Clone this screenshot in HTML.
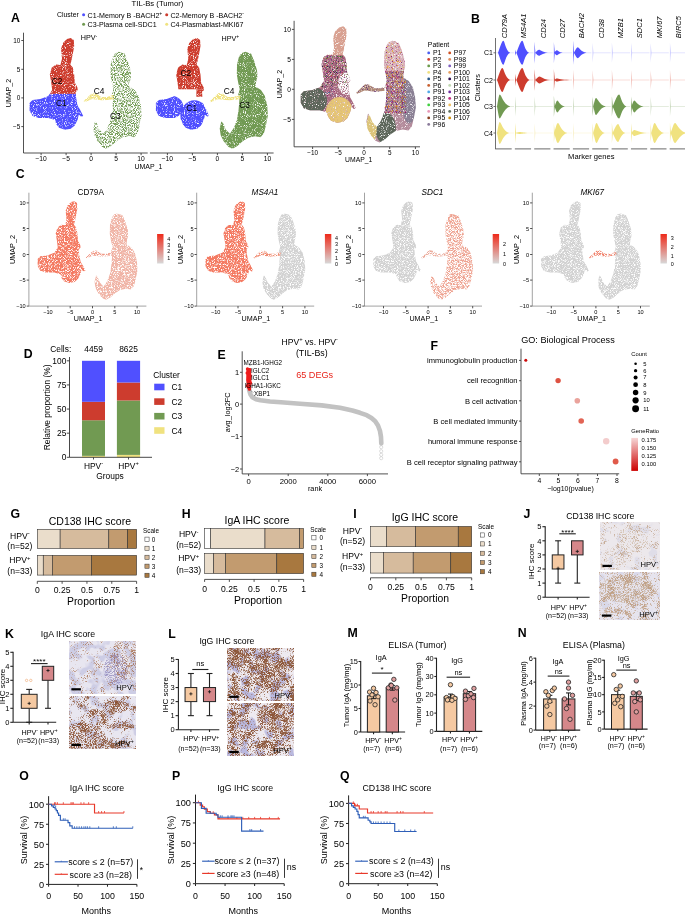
<!DOCTYPE html><html><head><meta charset="utf-8"><style>html,body{margin:0;padding:0;background:#fff}svg{display:block;will-change:transform}text{font-family:"Liberation Sans",sans-serif}</style></head><body><svg width="685" height="914" viewBox="0 0 685 914" font-family="Liberation Sans, sans-serif">
<rect width="685" height="914" fill="#fff"/>
<defs><filter id="spkD" x="-5%" y="-5%" width="110%" height="110%"><feTurbulence type="fractalNoise" baseFrequency="1.1" numOctaves="1" seed="3" result="n"/><feColorMatrix in="n" type="matrix" values="0 0 0 0 0 0 0 0 0 0 0 0 0 0 0 5 0 0 0 -1.3" result="a"/><feComposite in="SourceGraphic" in2="a" operator="in"/></filter><filter id="spkM" x="-5%" y="-5%" width="110%" height="110%"><feTurbulence type="fractalNoise" baseFrequency="1.1" numOctaves="1" seed="4" result="n"/><feColorMatrix in="n" type="matrix" values="0 0 0 0 0 0 0 0 0 0 0 0 0 0 0 5 0 0 0 -1.7" result="a"/><feComposite in="SourceGraphic" in2="a" operator="in"/></filter><filter id="spkS" x="-5%" y="-5%" width="110%" height="110%"><feTurbulence type="fractalNoise" baseFrequency="1.1" numOctaves="1" seed="5" result="n"/><feColorMatrix in="n" type="matrix" values="0 0 0 0 0 0 0 0 0 0 0 0 0 0 0 5 0 0 0 -2.1" result="a"/><feComposite in="SourceGraphic" in2="a" operator="in"/></filter><filter id="spkC" x="-5%" y="-5%" width="110%" height="110%"><feTurbulence type="fractalNoise" baseFrequency="1.3" numOctaves="1" seed="6" result="n"/><feColorMatrix in="n" type="matrix" values="0 0 0 0 0 0 0 0 0 0 0 0 0 0 0 5 0 0 0 -1.6" result="a"/><feComposite in="SourceGraphic" in2="a" operator="in"/></filter><filter id="spkCs" x="-5%" y="-5%" width="110%" height="110%"><feTurbulence type="fractalNoise" baseFrequency="1.3" numOctaves="1" seed="7" result="n"/><feColorMatrix in="n" type="matrix" values="0 0 0 0 0 0 0 0 0 0 0 0 0 0 0 5 0 0 0 -2.0" result="a"/><feComposite in="SourceGraphic" in2="a" operator="in"/></filter><filter id="spkG" x="-5%" y="-5%" width="110%" height="110%"><feTurbulence type="fractalNoise" baseFrequency="1.3" numOctaves="1" seed="8" result="n"/><feColorMatrix in="n" type="matrix" values="0 0 0 0 0 0 0 0 0 0 0 0 0 0 0 5 0 0 0 -1.6" result="a"/><feComposite in="SourceGraphic" in2="a" operator="in"/></filter><filter id="sp1" x="-5%" y="-5%" width="110%" height="110%"><feTurbulence type="fractalNoise" baseFrequency="1.2" numOctaves="1" seed="27" result="n"/><feColorMatrix in="n" type="matrix" values="0 0 0 0 0 0 0 0 0 0 0 0 0 0 0 6 0 0 0 -3.5" result="a"/><feComposite in="SourceGraphic" in2="a" operator="in"/></filter><filter id="sp2" x="-5%" y="-5%" width="110%" height="110%"><feTurbulence type="fractalNoise" baseFrequency="1.2" numOctaves="1" seed="34" result="n"/><feColorMatrix in="n" type="matrix" values="0 0 0 0 0 0 0 0 0 0 0 0 0 0 0 6 0 0 0 -3.5" result="a"/><feComposite in="SourceGraphic" in2="a" operator="in"/></filter><filter id="sp3" x="-5%" y="-5%" width="110%" height="110%"><feTurbulence type="fractalNoise" baseFrequency="1.2" numOctaves="1" seed="41" result="n"/><feColorMatrix in="n" type="matrix" values="0 0 0 0 0 0 0 0 0 0 0 0 0 0 0 6 0 0 0 -3.5" result="a"/><feComposite in="SourceGraphic" in2="a" operator="in"/></filter><filter id="sp4" x="-5%" y="-5%" width="110%" height="110%"><feTurbulence type="fractalNoise" baseFrequency="1.2" numOctaves="1" seed="48" result="n"/><feColorMatrix in="n" type="matrix" values="0 0 0 0 0 0 0 0 0 0 0 0 0 0 0 6 0 0 0 -3.5" result="a"/><feComposite in="SourceGraphic" in2="a" operator="in"/></filter><filter id="sp5" x="-5%" y="-5%" width="110%" height="110%"><feTurbulence type="fractalNoise" baseFrequency="1.2" numOctaves="1" seed="55" result="n"/><feColorMatrix in="n" type="matrix" values="0 0 0 0 0 0 0 0 0 0 0 0 0 0 0 6 0 0 0 -3.5" result="a"/><feComposite in="SourceGraphic" in2="a" operator="in"/></filter><filter id="sp6" x="-5%" y="-5%" width="110%" height="110%"><feTurbulence type="fractalNoise" baseFrequency="1.2" numOctaves="1" seed="62" result="n"/><feColorMatrix in="n" type="matrix" values="0 0 0 0 0 0 0 0 0 0 0 0 0 0 0 6 0 0 0 -3.5" result="a"/><feComposite in="SourceGraphic" in2="a" operator="in"/></filter><filter id="sp7" x="-5%" y="-5%" width="110%" height="110%"><feTurbulence type="fractalNoise" baseFrequency="1.2" numOctaves="1" seed="69" result="n"/><feColorMatrix in="n" type="matrix" values="0 0 0 0 0 0 0 0 0 0 0 0 0 0 0 6 0 0 0 -3.5" result="a"/><feComposite in="SourceGraphic" in2="a" operator="in"/></filter><filter id="sp8" x="-5%" y="-5%" width="110%" height="110%"><feTurbulence type="fractalNoise" baseFrequency="1.2" numOctaves="1" seed="76" result="n"/><feColorMatrix in="n" type="matrix" values="0 0 0 0 0 0 0 0 0 0 0 0 0 0 0 6 0 0 0 -3.5" result="a"/><feComposite in="SourceGraphic" in2="a" operator="in"/></filter><filter id="spB" x="-10%" y="-10%" width="120%" height="120%"><feTurbulence type="fractalNoise" baseFrequency="1.1" numOctaves="1" seed="77" result="n"/><feColorMatrix in="n" type="matrix" values="0 0 0 0 0 0 0 0 0 0 0 0 0 0 0 6 0 0 0 -2.7" result="a"/><feComposite in="SourceGraphic" in2="a" operator="in" result="c"/><feGaussianBlur in="c" stdDeviation="0.35"/></filter><filter id="spB2" x="-10%" y="-10%" width="120%" height="120%"><feTurbulence type="fractalNoise" baseFrequency="1.1" numOctaves="1" seed="78" result="n"/><feColorMatrix in="n" type="matrix" values="0 0 0 0 0 0 0 0 0 0 0 0 0 0 0 6 0 0 0 -3.1" result="a"/><feComposite in="SourceGraphic" in2="a" operator="in" result="c"/><feGaussianBlur in="c" stdDeviation="0.35"/></filter></defs>
<text x="11" y="21.53" font-size="12.3" font-weight="bold" >A</text>
<text x="157.5" y="5.77" font-size="7.7" text-anchor="middle" >TIL-Bs (Tumor)</text>
<text x="57" y="16.68" font-size="6.9" >Cluster</text>
<circle cx="83.6" cy="14.8" r="1.5" fill="#5050ff" />
<circle cx="83.6" cy="24.3" r="1.5" fill="#719a52" />
<circle cx="166.7" cy="14.8" r="1.5" fill="#cd3c2e" />
<circle cx="166.7" cy="24.3" r="1.5" fill="#f0e27f" />
<text x="87.6" y="17.56" font-size="7.1" >C1-Memory B -BACH2<tspan font-size="4.83" dy="-2.84">+</tspan></text>
<text x="87.6" y="26.86" font-size="7.1" >C3-Plasma cell-SDC1</text>
<text x="170.5" y="17.56" font-size="7.1" >C2-Memory B -BACH2<tspan font-size="4.83" dy="-2.84">-</tspan></text>
<text x="170.5" y="26.86" font-size="7.1" >C4-Plasmablast-MKI67</text>
<clipPath id="cA0L"><path d="M70.84,38.07 L73.78,40.03 L74.18,45.93 L73.39,50.84 L71.43,60.66 L70.25,64.58 L72.8,67.53 L74.18,74.4 L74.77,82.26 L77.32,87.17 L77.71,90.12 L75.75,92.08 L76.14,97.97 L77.71,105.83 L80.07,109.76 L83.21,116.04 L81.25,116.83 L78.69,114.67 L77.71,119.58 L74.77,125.47 L70.84,128.81 L64.95,129.79 L59.05,127.83 L56.11,123.9 L55.13,119.97 L48.25,118.01 L38.43,118.01 L32.54,116.04 L29.59,110.74 L29.59,102.88 L32.54,99.94 L40.4,98.96 L48.25,96.01 L52.18,90.12 L51.2,82.26 L49.82,74.4 L51.79,67.53 L56.11,64.58 L60.43,64.98 L62,58.69 L61.02,48.87 L62.98,42.98 L66.91,39.05 Z"/></clipPath>
<g filter="url(#spkD)"><g clip-path="url(#cA0L)">
<rect x="21.1" y="34.76" width="70" height="59.12" fill="#cd3c2e" />
<rect x="21.1" y="93.88" width="70" height="45.92" fill="#5050ff" />
</g></g>
<path d="M118.96,51.82 L124.85,53.78 L127.8,60.66 L130.74,70.48 L131.13,76.37 L129.76,82.26 L129.17,86.58 L134.67,90.12 L138.6,96.01 L140.95,105.83 L141.54,115.65 L139.58,125.47 L137.62,133.33 L134.28,137.25 L128.78,136.27 L121.9,137.65 L116.01,141.58 L111.1,146.09 L106.19,148.65 L102.26,147.08 L97.35,141.18 L94.41,135.29 L93.42,128.42 L95,121.15 L96.96,123.51 L99.32,129.4 L103.64,133.72 L107.57,127.83 L110.71,119.58 L112.28,109.76 L113.06,99.94 L111.89,94.44 L113.46,89.14 L111.89,82.65 L110.51,74.8 L110.71,64.58 L112.67,56.73 L115.03,53.19 Z" fill="#719a52" filter="url(#spkS)"/>
<path d="M83.6,100.92 L86.55,98.37 L89.5,95.62 L92.44,93.06 L96.37,93.65 L101.28,96.99 L107.17,96.99 L112.67,95.03 L114.24,96.4 L113.85,99.15 L107.17,99.94 L101.28,100.33 L96.37,99.54 L91.46,99.15 L87.53,101.12 L84.19,102.29 Z" fill="#f0e27f" filter="url(#spkM)"/>
<clipPath id="cA1L"><path d="M197.14,38.07 L200.08,40.03 L200.48,45.93 L199.69,50.84 L197.73,60.66 L196.55,64.58 L199.1,67.53 L200.48,74.4 L201.07,82.26 L203.62,87.17 L204.01,90.12 L202.05,92.08 L202.44,97.97 L204.01,105.83 L206.37,109.76 L209.51,116.04 L207.55,116.83 L204.99,114.67 L204.01,119.58 L201.07,125.47 L197.14,128.81 L191.25,129.79 L185.35,127.83 L182.41,123.9 L181.43,119.97 L174.55,118.01 L164.73,118.01 L158.84,116.04 L155.89,110.74 L155.89,102.88 L158.84,99.94 L166.7,98.96 L174.55,96.01 L178.48,90.12 L177.5,82.26 L176.12,74.4 L178.09,67.53 L182.41,64.58 L186.73,64.98 L188.3,58.69 L187.32,48.87 L189.28,42.98 L193.21,39.05 Z"/></clipPath>
<g filter="url(#spkD)"><g clip-path="url(#cA1L)">
<rect x="147.4" y="34.76" width="70" height="54.53" fill="#cd3c2e" />
<rect x="196.4" y="89.29" width="15" height="7.46" fill="#cd3c2e" />
<ellipse cx="168.4" cy="107.08" rx="15" ry="12.05" fill="#5050ff"/>
<ellipse cx="194.4" cy="115.69" rx="14" ry="15.5" fill="#5050ff"/>
</g></g>
<path d="M245.26,51.82 L251.15,53.78 L254.1,60.66 L257.04,70.48 L257.43,76.37 L256.06,82.26 L255.47,86.58 L260.97,90.12 L264.9,96.01 L267.25,105.83 L267.84,115.65 L265.88,125.47 L263.92,133.33 L260.58,137.25 L255.08,136.27 L248.2,137.65 L242.31,141.58 L237.4,146.09 L232.49,148.65 L228.56,147.08 L223.65,141.18 L220.71,135.29 L219.72,128.42 L221.3,121.15 L223.26,123.51 L225.62,129.4 L229.94,133.72 L233.87,127.83 L237.01,119.58 L238.58,109.76 L239.36,99.94 L238.19,94.44 L239.76,89.14 L238.19,82.65 L236.81,74.8 L237.01,64.58 L238.97,56.73 L241.33,53.19 Z" fill="#719a52" filter="url(#spkD)"/>
<path d="M209.9,100.92 L212.85,98.37 L215.8,95.62 L218.74,93.06 L222.67,93.65 L227.58,96.99 L233.47,96.99 L238.97,95.03 L240.54,96.4 L240.15,99.15 L233.47,99.94 L227.58,100.33 L222.67,99.54 L217.76,99.15 L213.83,101.12 L210.49,102.29 Z" fill="#f0e27f" filter="url(#spkM)"/>
<line x1="23.5" y1="32.7" x2="23.5" y2="153" stroke="#333" stroke-width="0.85" />
<line x1="23.5" y1="153" x2="147.7" y2="153" stroke="#333" stroke-width="0.85" />
<line x1="149.9" y1="153" x2="273.6" y2="153" stroke="#333" stroke-width="0.85" />
<line x1="21.3" y1="40.5" x2="23.5" y2="40.5" stroke="#333" stroke-width="0.85" />
<text x="20.3" y="42.8" font-size="6.4" text-anchor="end" >10</text>
<line x1="21.3" y1="69.3" x2="23.5" y2="69.3" stroke="#333" stroke-width="0.85" />
<text x="20.3" y="71.6" font-size="6.4" text-anchor="end" >5</text>
<line x1="21.3" y1="97.9" x2="23.5" y2="97.9" stroke="#333" stroke-width="0.85" />
<text x="20.3" y="100.2" font-size="6.4" text-anchor="end" >0</text>
<line x1="21.3" y1="126.6" x2="23.5" y2="126.6" stroke="#333" stroke-width="0.85" />
<text x="20.3" y="128.9" font-size="6.4" text-anchor="end" >−5</text>
<line x1="41.1" y1="153" x2="41.1" y2="155.2" stroke="#333" stroke-width="0.85" />
<text x="41.1" y="161.11" font-size="6.7" text-anchor="middle" >−10</text>
<line x1="66.1" y1="153" x2="66.1" y2="155.2" stroke="#333" stroke-width="0.85" />
<text x="66.1" y="161.11" font-size="6.7" text-anchor="middle" >−5</text>
<line x1="91.1" y1="153" x2="91.1" y2="155.2" stroke="#333" stroke-width="0.85" />
<text x="91.1" y="161.11" font-size="6.7" text-anchor="middle" >0</text>
<line x1="116.1" y1="153" x2="116.1" y2="155.2" stroke="#333" stroke-width="0.85" />
<text x="116.1" y="161.11" font-size="6.7" text-anchor="middle" >5</text>
<line x1="141.1" y1="153" x2="141.1" y2="155.2" stroke="#333" stroke-width="0.85" />
<text x="141.1" y="161.11" font-size="6.7" text-anchor="middle" >10</text>
<line x1="167.4" y1="153" x2="167.4" y2="155.2" stroke="#333" stroke-width="0.85" />
<text x="167.4" y="161.11" font-size="6.7" text-anchor="middle" >−10</text>
<line x1="192.4" y1="153" x2="192.4" y2="155.2" stroke="#333" stroke-width="0.85" />
<text x="192.4" y="161.11" font-size="6.7" text-anchor="middle" >−5</text>
<line x1="217.4" y1="153" x2="217.4" y2="155.2" stroke="#333" stroke-width="0.85" />
<text x="217.4" y="161.11" font-size="6.7" text-anchor="middle" >0</text>
<line x1="242.4" y1="153" x2="242.4" y2="155.2" stroke="#333" stroke-width="0.85" />
<text x="242.4" y="161.11" font-size="6.7" text-anchor="middle" >5</text>
<line x1="267.4" y1="153" x2="267.4" y2="155.2" stroke="#333" stroke-width="0.85" />
<text x="267.4" y="161.11" font-size="6.7" text-anchor="middle" >10</text>
<text x="148.5" y="168.62" font-size="7" text-anchor="middle" >UMAP_1</text>
<text transform="translate(8.4,93) rotate(-90)" x="0" y="2.56" font-size="7.1" text-anchor="middle" >UMAP_2</text>
<text x="80.7" y="40.39" font-size="7.2" >HPV<tspan font-size="4.9" dy="-2.88">-</tspan></text>
<text x="221.5" y="40.89" font-size="7.2" >HPV<tspan font-size="4.9" dy="-2.88">+</tspan></text>
<text x="57" y="84.02" font-size="8.4" text-anchor="middle" >C2</text>
<text x="61.4" y="106.12" font-size="8.4" text-anchor="middle" >C1</text>
<text x="99" y="94.32" font-size="8.4" text-anchor="middle" >C4</text>
<text x="115.3" y="118.92" font-size="8.4" text-anchor="middle" >C3</text>
<text x="185.8" y="76.22" font-size="8.4" text-anchor="middle" >C2</text>
<text x="191.7" y="110.72" font-size="8.4" text-anchor="middle" >C1</text>
<text x="229" y="93.82" font-size="8.4" text-anchor="middle" >C4</text>
<text x="244.5" y="108.22" font-size="8.4" text-anchor="middle" >C3</text>
<clipPath id="cA3L"><path d="M343.17,26.35 L346.2,28.41 L346.6,34.6 L345.8,39.76 L343.78,50.07 L342.56,54.2 L345.19,57.3 L346.6,64.52 L347.21,72.77 L349.83,77.93 L350.24,81.02 L348.22,83.09 L348.62,89.28 L350.24,97.53 L352.66,101.66 L355.89,108.26 L353.87,109.08 L351.25,106.82 L350.24,111.97 L347.21,118.16 L343.17,121.67 L337.11,122.7 L331.06,120.64 L328.03,116.51 L327.02,112.39 L319.95,110.32 L309.86,110.32 L303.8,108.26 L300.77,102.69 L300.77,94.44 L303.8,91.34 L311.88,90.31 L319.95,87.21 L323.99,81.02 L322.98,72.77 L321.57,64.52 L323.59,57.3 L328.03,54.2 L332.47,54.61 L334.08,48.01 L333.08,37.69 L335.09,31.5 L339.13,27.38 Z"/></clipPath><clipPath id="cA3R"><path d="M392.64,40.79 L398.69,42.85 L401.72,50.07 L404.75,60.39 L405.15,66.58 L403.74,72.77 L403.14,77.31 L408.79,81.02 L412.83,87.21 L415.25,97.53 L415.86,107.85 L413.84,118.16 L411.82,126.42 L408.39,130.54 L402.73,129.51 L395.67,130.96 L389.61,135.08 L384.56,139.83 L379.51,142.51 L375.47,140.86 L370.43,134.67 L367.4,128.48 L366.39,121.26 L368,113.62 L370.02,116.1 L372.45,122.29 L376.89,126.83 L380.93,120.64 L384.16,111.97 L385.77,101.66 L386.58,91.34 L385.37,85.56 L386.98,79.99 L385.37,73.18 L383.95,64.93 L384.16,54.2 L386.18,45.95 L388.6,42.23 Z"/></clipPath><clipPath id="cA3B"><path d="M356.29,92.37 L359.32,89.69 L362.35,86.8 L365.38,84.12 L369.42,84.74 L374.47,88.25 L380.52,88.25 L386.18,86.18 L387.79,87.63 L387.39,90.52 L380.52,91.34 L374.47,91.75 L369.42,90.93 L364.37,90.52 L360.33,92.58 L356.9,93.82 Z"/></clipPath>
<g clip-path="url(#cA3L)">
<g filter="url(#spkD)">
<rect x="292.04" y="22.87" width="71.96" height="108.54" fill="#a86a80" />
<rect x="292.04" y="22.87" width="71.96" height="32.56" fill="#d8a090" />
</g>
<g filter="url(#sp1)">
<rect x="320.31" y="55.43" width="38.55" height="31.96" fill="#8a1a6a" />
</g>
<g filter="url(#sp2)">
<rect x="320.31" y="55.43" width="38.55" height="31.96" fill="#5a2a80" />
</g>
<g filter="url(#sp3)">
<rect x="320.31" y="55.43" width="38.55" height="31.96" fill="#b05a28" />
</g>
<g filter="url(#sp4)">
<rect x="320.31" y="55.43" width="38.55" height="31.96" fill="#e8e4d0" />
</g>
<g filter="url(#sp5)">
<rect x="320.31" y="55.43" width="38.55" height="31.96" fill="#c03080" />
</g>
<g filter="url(#sp6)">
<rect x="320.31" y="55.43" width="38.55" height="31.96" fill="#2a2a40" />
</g>
<g filter="url(#sp7)">
<rect x="320.31" y="55.43" width="38.55" height="31.96" fill="#6a9a4a" />
</g>
<g filter="url(#sp8)">
<rect x="320.31" y="55.43" width="38.55" height="31.96" fill="#e0a0b0" />
</g>
<g filter="url(#spkM)">
<ellipse cx="347.55" cy="83.77" rx="9.77" ry="11.46" fill="#ffffff"/>
</g>
<g filter="url(#spkD)">
<ellipse cx="312.09" cy="100.66" rx="14.91" ry="13.87" fill="#5c665a"/>
<ellipse cx="339.33" cy="111.51" rx="13.36" ry="14.47" fill="#e6c674"/>
</g>
<g filter="url(#sp5)">
<rect x="324.94" y="85.58" width="10.79" height="10.85" fill="#8a1a6a" />
</g>
<g filter="url(#sp6)">
<rect x="324.94" y="85.58" width="10.79" height="10.85" fill="#2a5a8a" />
</g>
<g filter="url(#sp7)">
<rect x="324.94" y="85.58" width="10.79" height="10.85" fill="#e0a0b0" />
</g>
</g>
<g clip-path="url(#cA3R)">
<g filter="url(#spkD)">
<rect x="364" y="34.93" width="61.68" height="114.57" fill="#b48c9c" />
<rect x="364" y="34.93" width="61.68" height="36.18" fill="#dab0bc" />
<ellipse cx="409.23" cy="98.25" rx="7.71" ry="25.33" fill="#8a8094"/>
<ellipse cx="385.59" cy="128.4" rx="10.28" ry="15.68" fill="#5c665a"/>
<ellipse cx="371.71" cy="127.19" rx="5.14" ry="15.08" fill="#dcc47a"/>
</g>
<g filter="url(#sp1)">
<rect x="376.85" y="71.11" width="29.3" height="42.21" fill="#5a2a80" />
</g>
<g filter="url(#sp2)">
<rect x="376.85" y="71.11" width="29.3" height="42.21" fill="#e8a030" />
</g>
<g filter="url(#sp3)">
<rect x="376.85" y="71.11" width="29.3" height="42.21" fill="#e8e0c8" />
</g>
<g filter="url(#sp4)">
<rect x="376.85" y="71.11" width="29.3" height="42.21" fill="#8a1a6a" />
</g>
<g filter="url(#sp5)">
<rect x="376.85" y="71.11" width="29.3" height="42.21" fill="#c03080" />
</g>
<g filter="url(#sp6)">
<rect x="376.85" y="71.11" width="29.3" height="42.21" fill="#607060" />
</g>
<g filter="url(#sp7)">
<rect x="376.85" y="71.11" width="29.3" height="42.21" fill="#d09010" />
</g>
<g filter="url(#sp8)">
<rect x="376.85" y="71.11" width="29.3" height="42.21" fill="#6a3a90" />
</g>
<g filter="url(#sp4)">
<rect x="376.85" y="34.93" width="38.55" height="36.18" fill="#c0d8b0" />
</g>
<g filter="url(#sp5)">
<rect x="376.85" y="34.93" width="38.55" height="36.18" fill="#8a1a6a" />
</g>
<g filter="url(#sp6)">
<rect x="376.85" y="34.93" width="38.55" height="36.18" fill="#e8a030" />
</g>
</g>
<g clip-path="url(#cA3B)"><g filter="url(#spkD)">
<rect x="353.72" y="80.16" width="30.84" height="15.08" fill="#b08a78" />
</g>
<g filter="url(#sp3)">
<rect x="353.72" y="80.16" width="30.84" height="15.08" fill="#5a2a80" />
</g></g>
<line x1="294.1" y1="20.8" x2="294.1" y2="146.8" stroke="#333" stroke-width="0.85" />
<line x1="294.1" y1="146.8" x2="420" y2="146.8" stroke="#333" stroke-width="0.85" />
<line x1="291.9" y1="29.4" x2="294.1" y2="29.4" stroke="#333" stroke-width="0.85" />
<text x="290.9" y="31.78" font-size="6.6" text-anchor="end" >10</text>
<line x1="291.9" y1="59.4" x2="294.1" y2="59.4" stroke="#333" stroke-width="0.85" />
<text x="290.9" y="61.78" font-size="6.6" text-anchor="end" >5</text>
<line x1="291.9" y1="89.3" x2="294.1" y2="89.3" stroke="#333" stroke-width="0.85" />
<text x="290.9" y="91.68" font-size="6.6" text-anchor="end" >0</text>
<line x1="291.9" y1="119.4" x2="294.1" y2="119.4" stroke="#333" stroke-width="0.85" />
<text x="290.9" y="121.78" font-size="6.6" text-anchor="end" >−5</text>
<line x1="312.6" y1="146.8" x2="312.6" y2="149" stroke="#333" stroke-width="0.85" />
<text x="312.6" y="154.6" font-size="6.4" text-anchor="middle" >−10</text>
<line x1="338.3" y1="146.8" x2="338.3" y2="149" stroke="#333" stroke-width="0.85" />
<text x="338.3" y="154.6" font-size="6.4" text-anchor="middle" >−5</text>
<line x1="364" y1="146.8" x2="364" y2="149" stroke="#333" stroke-width="0.85" />
<text x="364" y="154.6" font-size="6.4" text-anchor="middle" >0</text>
<line x1="389.7" y1="146.8" x2="389.7" y2="149" stroke="#333" stroke-width="0.85" />
<text x="389.7" y="154.6" font-size="6.4" text-anchor="middle" >5</text>
<line x1="415.4" y1="146.8" x2="415.4" y2="149" stroke="#333" stroke-width="0.85" />
<text x="415.4" y="154.6" font-size="6.4" text-anchor="middle" >10</text>
<text x="358.7" y="162.45" font-size="6.8" text-anchor="middle" >UMAP_1</text>
<text transform="translate(279.6,84) rotate(-90)" x="0" y="2.56" font-size="7.1" text-anchor="middle" >UMAP_2</text>
<text x="427.8" y="46.68" font-size="6.9" >Patient</text>
<circle cx="428.7" cy="52.9" r="1.4" fill="#4a5ef0" />
<text x="433" y="55.38" font-size="6.9" >P1</text>
<circle cx="428.7" cy="59.4" r="1.4" fill="#d04030" />
<text x="433" y="61.88" font-size="6.9" >P2</text>
<circle cx="428.7" cy="65.9" r="1.4" fill="#6a9a4a" />
<text x="433" y="68.38" font-size="6.9" >P3</text>
<circle cx="428.7" cy="72.4" r="1.4" fill="#f0e080" />
<text x="433" y="74.88" font-size="6.9" >P4</text>
<circle cx="428.7" cy="78.9" r="1.4" fill="#2a5a8a" />
<text x="433" y="81.38" font-size="6.9" >P5</text>
<circle cx="428.7" cy="85.4" r="1.4" fill="#c86030" />
<text x="433" y="87.88" font-size="6.9" >P6</text>
<circle cx="428.7" cy="91.9" r="1.4" fill="#50a8e8" />
<text x="433" y="94.38" font-size="6.9" >P91</text>
<circle cx="428.7" cy="98.4" r="1.4" fill="#801a70" />
<text x="433" y="100.88" font-size="6.9" >P92</text>
<circle cx="428.7" cy="104.9" r="1.4" fill="#40d040" />
<text x="433" y="107.38" font-size="6.9" >P93</text>
<circle cx="428.7" cy="111.4" r="1.4" fill="#e898b8" />
<text x="433" y="113.88" font-size="6.9" >P94</text>
<circle cx="428.7" cy="117.9" r="1.4" fill="#8a4020" />
<text x="433" y="120.38" font-size="6.9" >P95</text>
<circle cx="428.7" cy="124.4" r="1.4" fill="#8a7a9a" />
<text x="433" y="126.88" font-size="6.9" >P96</text>
<circle cx="449.7" cy="52.9" r="1.4" fill="#d05020" />
<text x="453.8" y="55.38" font-size="6.9" >P97</text>
<circle cx="449.7" cy="59.4" r="1.4" fill="#e09060" />
<text x="453.8" y="61.88" font-size="6.9" >P98</text>
<circle cx="449.7" cy="65.9" r="1.4" fill="#8060c0" />
<text x="453.8" y="68.38" font-size="6.9" >P99</text>
<circle cx="449.7" cy="72.4" r="1.4" fill="#e8a060" />
<text x="453.8" y="74.88" font-size="6.9" >P100</text>
<circle cx="449.7" cy="78.9" r="1.4" fill="#301050" />
<text x="453.8" y="81.38" font-size="6.9" >P101</text>
<circle cx="449.7" cy="85.4" r="1.4" fill="#c0d8b0" />
<text x="453.8" y="87.88" font-size="6.9" >P102</text>
<circle cx="449.7" cy="91.9" r="1.4" fill="#7030a0" />
<text x="453.8" y="94.38" font-size="6.9" >P103</text>
<circle cx="449.7" cy="98.4" r="1.4" fill="#c03080" />
<text x="453.8" y="100.88" font-size="6.9" >P104</text>
<circle cx="449.7" cy="104.9" r="1.4" fill="#f0c060" />
<text x="453.8" y="107.38" font-size="6.9" >P105</text>
<circle cx="449.7" cy="111.4" r="1.4" fill="#607060" />
<text x="453.8" y="113.88" font-size="6.9" >P106</text>
<circle cx="449.7" cy="117.9" r="1.4" fill="#d09010" />
<text x="453.8" y="120.38" font-size="6.9" >P107</text>
<text x="471" y="22.73" font-size="12.3" font-weight="bold" >B</text>
<line x1="495.5" y1="38" x2="495.5" y2="148.9" stroke="#333" stroke-width="0.7" />
<line x1="493.5" y1="52.8" x2="495.5" y2="52.8" stroke="#333" stroke-width="0.7" />
<text x="493" y="55.32" font-size="7" text-anchor="end" >C1</text>
<line x1="493.5" y1="80" x2="495.5" y2="80" stroke="#333" stroke-width="0.7" />
<text x="493" y="82.52" font-size="7" text-anchor="end" >C2</text>
<line x1="493.5" y1="106.5" x2="495.5" y2="106.5" stroke="#333" stroke-width="0.7" />
<text x="493" y="109.02" font-size="7" text-anchor="end" >C3</text>
<line x1="493.5" y1="133" x2="495.5" y2="133" stroke="#333" stroke-width="0.7" />
<text x="493" y="135.52" font-size="7" text-anchor="end" >C4</text>
<text transform="translate(477,87.7) rotate(-90)" x="0" y="2.66" font-size="7.4" text-anchor="middle" >Clusters</text>
<text x="591.3" y="159.44" font-size="7.6" text-anchor="middle" >Marker genes</text>
<line x1="495.1" y1="148.9" x2="511.7" y2="148.9" stroke="#444" stroke-width="0.8" />
<text transform="translate(504.1,38.2) rotate(-90)" x="0" y="2.7" font-size="7.5" font-style="italic" >CD79A</text>
<line x1="495.8" y1="52.8" x2="514" y2="52.8" stroke="#c8c8ff" stroke-width="0.5" />
<path d="M498,52.8 C500.75,45.6 501.85,40.8 503.5,40.8 C504.49,40.8 505.8,51 510.07,52.8 C505.8,54.6 504.49,64.8 503.5,64.8 C501.85,64.8 500.75,60 498,52.8 Z" fill="#5050ff" />
<line x1="495.8" y1="80" x2="514" y2="80" stroke="#f0b8b0" stroke-width="0.5" />
<path d="M497,80 C499.75,72.8 500.85,68 502.5,68 C503.66,68 505.2,78.2 510.23,80 C505.2,81.8 503.66,92 502.5,92 C500.85,92 499.75,87.2 497,80 Z" fill="#cd3c2e" />
<line x1="495.8" y1="106.5" x2="514" y2="106.5" stroke="#c8d8bc" stroke-width="0.5" />
<path d="M497,106.5 C498.38,99.3 498.93,94.5 499.75,94.5 C501.32,94.5 503.42,104.7 510.23,106.5 C503.42,108.3 501.32,118.5 499.75,118.5 C498.93,118.5 498.38,113.7 497,106.5 Z" fill="#719a52" />
<line x1="495.8" y1="133" x2="514" y2="133" stroke="#f8f0c8" stroke-width="0.5" />
<path d="M497,133 C498.38,126.4 498.93,122 499.75,122 C501.15,122 503.01,131.35 509.07,133 C503.01,134.65 501.15,144 499.75,144 C498.93,144 498.38,139.6 497,133 Z" fill="#f0e27f" />
<line x1="514.85" y1="148.9" x2="531.05" y2="148.9" stroke="#444" stroke-width="0.8" />
<text transform="translate(523.45,38.2) rotate(-90)" x="0" y="2.7" font-size="7.5" font-style="italic" >MS4A1</text>
<line x1="515.15" y1="52.8" x2="533.35" y2="52.8" stroke="#c8c8ff" stroke-width="0.5" />
<path d="M515.15,49.8 L516.05,52.8 L515.15,55.8 Z" fill="#5050ff" />
<path d="M516.35,52.8 C519.38,45.6 520.59,40.8 522.4,40.8 C523.39,40.8 524.71,51 529,52.8 C524.71,54.6 523.39,64.8 522.4,64.8 C520.59,64.8 519.38,60 516.35,52.8 Z" fill="#5050ff" />
<line x1="515.15" y1="80" x2="533.35" y2="80" stroke="#f0b8b0" stroke-width="0.5" />
<path d="M515.15,74 L516.05,80 L515.15,86 Z" fill="#cd3c2e" />
<path d="M516.35,80 C519.38,72.8 520.59,68 522.4,68 C523.48,68 524.91,78.2 529.58,80 C524.91,81.8 523.48,92 522.4,92 C520.59,92 519.38,87.2 516.35,80 Z" fill="#cd3c2e" />
<line x1="515.15" y1="106.5" x2="533.35" y2="106.5" stroke="#c8d8bc" stroke-width="0.5" />
<path d="M515.15,96.5 L516.05,106.5 L515.15,116.5 Z" fill="#c8d8bc" />
<line x1="515.15" y1="133" x2="533.35" y2="133" stroke="#f8f0c8" stroke-width="0.5" />
<path d="M515.15,123 L516.05,133 L515.15,143 Z" fill="#f0e27f" />
<path d="M515.35,133 C517.83,132.4 518.82,132 520.3,132 C521.71,132 523.6,132.85 529.73,133 C523.6,133.15 521.71,134 520.3,134 C518.82,134 517.83,133.6 515.35,133 Z" fill="#f0e27f" />
<line x1="534.2" y1="148.9" x2="550.4" y2="148.9" stroke="#444" stroke-width="0.8" />
<text transform="translate(542.8,38.2) rotate(-90)" x="0" y="2.7" font-size="7.5" font-style="italic" >CD24</text>
<line x1="534.5" y1="52.8" x2="552.7" y2="52.8" stroke="#c8c8ff" stroke-width="0.5" />
<path d="M534.5,41.8 L535.4,52.8 L534.5,63.8 Z" fill="#5050ff" />
<path d="M535.2,52.8 C537.12,51 537.9,49.8 539.05,49.8 C540.37,49.8 542.13,52.35 547.85,52.8 C542.13,53.25 540.37,55.8 539.05,55.8 C537.9,55.8 537.12,54.6 535.2,52.8 Z" fill="#5050ff" />
<line x1="534.5" y1="80" x2="552.7" y2="80" stroke="#f0b8b0" stroke-width="0.5" />
<path d="M534.5,69 L535.4,80 L534.5,91 Z" fill="#cd3c2e" />
<path d="M535.2,80 C537.4,77.9 538.28,76.5 539.6,76.5 C541.18,76.5 543.29,79.47 550.15,80 C543.29,80.53 541.18,83.5 539.6,83.5 C538.28,83.5 537.4,82.1 535.2,80 Z" fill="#cd3c2e" />
<line x1="534.5" y1="106.5" x2="552.7" y2="106.5" stroke="#c8d8bc" stroke-width="0.5" />
<path d="M534.5,96.5 L535.4,106.5 L534.5,116.5 Z" fill="#c8d8bc" />
<line x1="534.5" y1="133" x2="552.7" y2="133" stroke="#f8f0c8" stroke-width="0.5" />
<path d="M534.5,123 L535.4,133 L534.5,143 Z" fill="#f8f0c8" />
<line x1="553.55" y1="148.9" x2="569.75" y2="148.9" stroke="#444" stroke-width="0.8" />
<text transform="translate(562.15,38.2) rotate(-90)" x="0" y="2.7" font-size="7.5" font-style="italic" >CD27</text>
<line x1="553.85" y1="52.8" x2="572.05" y2="52.8" stroke="#c8c8ff" stroke-width="0.5" />
<path d="M553.85,41.8 L554.75,52.8 L553.85,63.8 Z" fill="#5050ff" />
<path d="M554.05,52.8 C555.42,51.3 555.97,50.3 556.8,50.3 C557.68,50.3 558.86,52.42 562.67,52.8 C558.86,53.17 557.68,55.3 556.8,55.3 C555.97,55.3 555.42,54.3 554.05,52.8 Z" fill="#5050ff" />
<line x1="553.85" y1="80" x2="572.05" y2="80" stroke="#f0b8b0" stroke-width="0.5" />
<path d="M553.85,69 L554.75,80 L553.85,91 Z" fill="#cd3c2e" />
<path d="M554.05,80 C555.42,79.1 555.97,78.5 556.8,78.5 C558.72,78.5 561.27,79.78 569.57,80 C561.27,80.22 558.72,81.5 556.8,81.5 C555.97,81.5 555.42,80.9 554.05,80 Z" fill="#cd3c2e" />
<line x1="553.85" y1="106.5" x2="572.05" y2="106.5" stroke="#c8d8bc" stroke-width="0.5" />
<path d="M553.85,95.5 L554.75,106.5 L553.85,117.5 Z" fill="#719a52" />
<path d="M554.55,106.5 C555.92,102.9 556.47,100.5 557.3,100.5 C558.44,100.5 559.96,105.6 564.9,106.5 C559.96,107.4 558.44,112.5 557.3,112.5 C556.47,112.5 555.92,110.1 554.55,106.5 Z" fill="#719a52" />
<line x1="553.85" y1="133" x2="572.05" y2="133" stroke="#f8f0c8" stroke-width="0.5" />
<path d="M553.85,123 L554.75,133 L553.85,143 Z" fill="#f0e27f" />
<path d="M554.05,133 C555.97,127 556.75,123 557.9,123 C559.31,123 561.18,131.5 567.27,133 C561.18,134.5 559.31,143 557.9,143 C556.75,143 555.97,139 554.05,133 Z" fill="#f0e27f" />
<line x1="572.9" y1="148.9" x2="589.1" y2="148.9" stroke="#444" stroke-width="0.8" />
<text transform="translate(581.5,38.2) rotate(-90)" x="0" y="2.7" font-size="7.5" font-style="italic" >BACH2</text>
<line x1="573.2" y1="52.8" x2="591.4" y2="52.8" stroke="#c8c8ff" stroke-width="0.5" />
<path d="M573.2,40.8 L574.1,52.8 L573.2,64.8 Z" fill="#5050ff" />
<path d="M573.9,52.8 C575.83,49.5 576.6,47.3 577.75,47.3 C579.07,47.3 580.83,51.97 586.55,52.8 C580.83,53.62 579.07,58.3 577.75,58.3 C576.6,58.3 575.83,56.1 573.9,52.8 Z" fill="#5050ff" />
<line x1="573.2" y1="80" x2="591.4" y2="80" stroke="#f0b8b0" stroke-width="0.5" />
<path d="M573.2,70 L574.1,80 L573.2,90 Z" fill="#f0b8b0" />
<line x1="573.2" y1="106.5" x2="591.4" y2="106.5" stroke="#c8d8bc" stroke-width="0.5" />
<path d="M573.2,96.5 L574.1,106.5 L573.2,116.5 Z" fill="#c8d8bc" />
<line x1="573.2" y1="133" x2="591.4" y2="133" stroke="#f8f0c8" stroke-width="0.5" />
<path d="M573.2,123 L574.1,133 L573.2,143 Z" fill="#f8f0c8" />
<line x1="592.25" y1="148.9" x2="608.45" y2="148.9" stroke="#444" stroke-width="0.8" />
<text transform="translate(600.85,38.2) rotate(-90)" x="0" y="2.7" font-size="7.5" font-style="italic" >CD38</text>
<line x1="592.55" y1="52.8" x2="610.75" y2="52.8" stroke="#c8c8ff" stroke-width="0.5" />
<path d="M592.55,42.8 L593.45,52.8 L592.55,62.8 Z" fill="#c8c8ff" />
<line x1="592.55" y1="80" x2="610.75" y2="80" stroke="#f0b8b0" stroke-width="0.5" />
<path d="M592.55,70 L593.45,80 L592.55,90 Z" fill="#f0b8b0" />
<line x1="592.55" y1="106.5" x2="610.75" y2="106.5" stroke="#c8d8bc" stroke-width="0.5" />
<path d="M592.55,96.5 L593.45,106.5 L592.55,116.5 Z" fill="#719a52" />
<path d="M593.25,106.5 C594.62,101.4 595.17,98 596,98 C597.49,98 599.47,105.22 605.9,106.5 C599.47,107.78 597.49,115 596,115 C595.17,115 594.62,111.6 593.25,106.5 Z" fill="#719a52" />
<line x1="592.55" y1="133" x2="610.75" y2="133" stroke="#f8f0c8" stroke-width="0.5" />
<path d="M592.55,123 L593.45,133 L592.55,143 Z" fill="#f0e27f" />
<path d="M593.25,133 C594.9,127 595.56,123 596.55,123 C597.78,123 599.42,131.5 604.75,133 C599.42,134.5 597.78,143 596.55,143 C595.56,143 594.9,139 593.25,133 Z" fill="#f0e27f" />
<line x1="611.6" y1="148.9" x2="627.8" y2="148.9" stroke="#444" stroke-width="0.8" />
<text transform="translate(620.2,38.2) rotate(-90)" x="0" y="2.7" font-size="7.5" font-style="italic" >MZB1</text>
<line x1="611.9" y1="52.8" x2="630.1" y2="52.8" stroke="#c8c8ff" stroke-width="0.5" />
<path d="M611.9,42.8 L612.8,52.8 L611.9,62.8 Z" fill="#c8c8ff" />
<line x1="611.9" y1="80" x2="630.1" y2="80" stroke="#f0b8b0" stroke-width="0.5" />
<path d="M611.9,70 L612.8,80 L611.9,90 Z" fill="#f0b8b0" />
<line x1="611.9" y1="106.5" x2="630.1" y2="106.5" stroke="#c8d8bc" stroke-width="0.5" />
<path d="M611.9,96.5 L612.8,106.5 L611.9,116.5 Z" fill="#719a52" />
<path d="M612.6,106.5 C615.9,99.3 617.22,94.5 619.2,94.5 C620.28,94.5 621.72,104.7 626.4,106.5 C621.72,108.3 620.28,118.5 619.2,118.5 C617.22,118.5 615.9,113.7 612.6,106.5 Z" fill="#719a52" />
<line x1="611.9" y1="133" x2="630.1" y2="133" stroke="#f8f0c8" stroke-width="0.5" />
<path d="M611.9,123 L612.8,133 L611.9,143 Z" fill="#f0e27f" />
<path d="M612.6,133 C615.35,127.6 616.45,124 618.1,124 C619.17,124 620.6,131.65 625.25,133 C620.6,134.35 619.17,142 618.1,142 C616.45,142 615.35,138.4 612.6,133 Z" fill="#f0e27f" />
<line x1="630.95" y1="148.9" x2="647.15" y2="148.9" stroke="#444" stroke-width="0.8" />
<text transform="translate(639.55,38.2) rotate(-90)" x="0" y="2.7" font-size="7.5" font-style="italic" >SDC1</text>
<line x1="631.25" y1="52.8" x2="649.45" y2="52.8" stroke="#c8c8ff" stroke-width="0.5" />
<path d="M631.25,42.8 L632.15,52.8 L631.25,62.8 Z" fill="#c8c8ff" />
<line x1="631.25" y1="80" x2="649.45" y2="80" stroke="#f0b8b0" stroke-width="0.5" />
<path d="M631.25,70 L632.15,80 L631.25,90 Z" fill="#f0b8b0" />
<line x1="631.25" y1="106.5" x2="649.45" y2="106.5" stroke="#c8d8bc" stroke-width="0.5" />
<path d="M631.25,96.5 L632.15,106.5 L631.25,116.5 Z" fill="#719a52" />
<path d="M631.45,106.5 C632.83,102.9 633.38,100.5 634.2,100.5 C635.6,100.5 637.46,105.6 643.53,106.5 C637.46,107.4 635.6,112.5 634.2,112.5 C633.38,112.5 632.83,110.1 631.45,106.5 Z" fill="#719a52" />
<line x1="631.25" y1="133" x2="649.45" y2="133" stroke="#f8f0c8" stroke-width="0.5" />
<path d="M631.25,123 L632.15,133 L631.25,143 Z" fill="#f0e27f" />
<path d="M631.45,133 C632.83,131.2 633.38,130 634.2,130 C636.12,130 638.67,132.55 646.98,133 C638.67,133.45 636.12,136 634.2,136 C633.38,136 632.83,134.8 631.45,133 Z" fill="#f0e27f" />
<line x1="650.3" y1="148.9" x2="666.5" y2="148.9" stroke="#444" stroke-width="0.8" />
<text transform="translate(658.9,38.2) rotate(-90)" x="0" y="2.7" font-size="7.5" font-style="italic" >MKI67</text>
<line x1="650.6" y1="52.8" x2="668.8" y2="52.8" stroke="#c8c8ff" stroke-width="0.5" />
<path d="M650.6,42.8 L651.5,52.8 L650.6,62.8 Z" fill="#c8c8ff" />
<line x1="650.6" y1="80" x2="668.8" y2="80" stroke="#f0b8b0" stroke-width="0.5" />
<path d="M650.6,70 L651.5,80 L650.6,90 Z" fill="#f0b8b0" />
<line x1="650.6" y1="106.5" x2="668.8" y2="106.5" stroke="#c8d8bc" stroke-width="0.5" />
<path d="M650.6,96.5 L651.5,106.5 L650.6,116.5 Z" fill="#c8d8bc" />
<line x1="650.6" y1="133" x2="668.8" y2="133" stroke="#f8f0c8" stroke-width="0.5" />
<path d="M650.6,123 L651.5,133 L650.6,143 Z" fill="#f0e27f" />
<path d="M651.3,133 C652.95,127 653.61,123 654.6,123 C656,123 657.87,131.5 663.95,133 C657.87,134.5 656,143 654.6,143 C653.61,143 652.95,139 651.3,133 Z" fill="#f0e27f" />
<line x1="669.65" y1="148.9" x2="685.85" y2="148.9" stroke="#444" stroke-width="0.8" />
<text transform="translate(678.25,38.2) rotate(-90)" x="0" y="2.7" font-size="7.5" font-style="italic" >BIRC5</text>
<line x1="669.95" y1="52.8" x2="688.15" y2="52.8" stroke="#c8c8ff" stroke-width="0.5" />
<path d="M669.95,42.8 L670.85,52.8 L669.95,62.8 Z" fill="#c8c8ff" />
<line x1="669.95" y1="80" x2="688.15" y2="80" stroke="#f0b8b0" stroke-width="0.5" />
<path d="M669.95,70 L670.85,80 L669.95,90 Z" fill="#f0b8b0" />
<line x1="669.95" y1="106.5" x2="688.15" y2="106.5" stroke="#c8d8bc" stroke-width="0.5" />
<path d="M669.95,96.5 L670.85,106.5 L669.95,116.5 Z" fill="#c8d8bc" />
<line x1="669.95" y1="133" x2="688.15" y2="133" stroke="#f8f0c8" stroke-width="0.5" />
<path d="M669.95,123 L670.85,133 L669.95,143 Z" fill="#f0e27f" />
<path d="M670.65,133 C672.85,127 673.73,123 675.05,123 C676.8,123 679.14,131.5 686.75,133 C679.14,134.5 676.8,143 675.05,143 C673.73,143 672.85,139 670.65,133 Z" fill="#f0e27f" />
<text x="15.8" y="177.93" font-size="12.3" font-weight="bold" >C</text>
<linearGradient id="gC" x1="0" y1="0" x2="0" y2="1"><stop offset="0" stop-color="#ee2a1a"/><stop offset="1" stop-color="#d8d8d8"/></linearGradient>
<path d="M74.43,201.13 L77.05,202.88 L77.4,208.14 L76.7,212.52 L74.95,221.28 L73.9,224.78 L76.18,227.41 L77.4,233.54 L77.93,240.55 L80.21,244.93 L80.56,247.56 L78.81,249.31 L79.16,254.57 L80.56,261.57 L82.66,265.08 L85.46,270.68 L83.71,271.38 L81.43,269.46 L80.56,273.84 L77.93,279.09 L74.43,282.07 L69.17,282.95 L63.91,281.19 L61.29,277.69 L60.41,274.19 L54.28,272.44 L45.52,272.44 L40.26,270.68 L37.64,265.95 L37.64,258.95 L40.26,256.32 L47.27,255.44 L54.28,252.81 L57.78,247.56 L56.91,240.55 L55.68,233.54 L57.43,227.41 L61.29,224.78 L65.14,225.13 L66.54,219.53 L65.67,210.77 L67.42,205.51 L70.92,202.01 Z" fill="#f47a62" filter="url(#spkC)"/>
<path d="M117.35,213.4 L122.6,215.15 L125.23,221.28 L127.86,230.04 L128.21,235.29 L126.98,240.55 L126.46,244.4 L131.36,247.56 L134.87,252.81 L136.97,261.57 L137.5,270.33 L135.74,279.09 L133.99,286.1 L131.01,289.6 L126.11,288.73 L119.98,289.95 L114.72,293.46 L110.34,297.49 L105.96,299.77 L102.46,298.36 L98.08,293.11 L95.45,287.85 L94.57,281.72 L95.97,275.24 L97.73,277.34 L99.83,282.6 L103.68,286.45 L107.19,281.19 L109.99,273.84 L111.39,265.08 L112.09,256.32 L111.04,251.41 L112.44,246.68 L111.04,240.9 L109.81,233.89 L109.99,224.78 L111.74,217.78 L113.84,214.62 Z" fill="#f0b4a6" filter="url(#spkC)"/>
<path d="M85.81,257.19 L88.44,254.92 L91.07,252.46 L93.7,250.19 L97.2,250.71 L101.58,253.69 L106.84,253.69 L111.74,251.94 L113.14,253.16 L112.79,255.62 L106.84,256.32 L101.58,256.67 L97.2,255.97 L92.82,255.62 L89.32,257.37 L86.34,258.42 Z" fill="#f09a88" filter="url(#spkCs)"/>
<line x1="28.9" y1="192.7" x2="28.9" y2="306.1" stroke="#999" stroke-width="0.9" />
<line x1="28.9" y1="306.1" x2="146.4" y2="306.1" stroke="#999" stroke-width="0.9" />
<line x1="26.7" y1="202.9" x2="28.9" y2="202.9" stroke="#333" stroke-width="0.85" />
<text x="25.7" y="204.92" font-size="5.6" text-anchor="end" >10</text>
<line x1="26.7" y1="228.5" x2="28.9" y2="228.5" stroke="#333" stroke-width="0.85" />
<text x="25.7" y="230.52" font-size="5.6" text-anchor="end" >5</text>
<line x1="26.7" y1="254.5" x2="28.9" y2="254.5" stroke="#333" stroke-width="0.85" />
<text x="25.7" y="256.52" font-size="5.6" text-anchor="end" >0</text>
<line x1="26.7" y1="280.1" x2="28.9" y2="280.1" stroke="#333" stroke-width="0.85" />
<text x="25.7" y="282.12" font-size="5.6" text-anchor="end" >−5</text>
<line x1="26.7" y1="306.1" x2="28.9" y2="306.1" stroke="#333" stroke-width="0.85" />
<text x="25.7" y="308.12" font-size="5.6" text-anchor="end" >−10</text>
<line x1="47.9" y1="306.1" x2="47.9" y2="308.3" stroke="#333" stroke-width="0.85" />
<text x="47.9" y="313.52" font-size="5.6" text-anchor="middle" >−10</text>
<line x1="70.2" y1="306.1" x2="70.2" y2="308.3" stroke="#333" stroke-width="0.85" />
<text x="70.2" y="313.52" font-size="5.6" text-anchor="middle" >−5</text>
<line x1="92.5" y1="306.1" x2="92.5" y2="308.3" stroke="#333" stroke-width="0.85" />
<text x="92.5" y="313.52" font-size="5.6" text-anchor="middle" >0</text>
<line x1="114.8" y1="306.1" x2="114.8" y2="308.3" stroke="#333" stroke-width="0.85" />
<text x="114.8" y="313.52" font-size="5.6" text-anchor="middle" >5</text>
<line x1="137.1" y1="306.1" x2="137.1" y2="308.3" stroke="#333" stroke-width="0.85" />
<text x="137.1" y="313.52" font-size="5.6" text-anchor="middle" >10</text>
<text x="88.2" y="321.39" font-size="7.2" text-anchor="middle" >UMAP_1</text>
<text transform="translate(12.6,249.5) rotate(-90)" x="0" y="2.59" font-size="7.2" text-anchor="middle" >UMAP_2</text>
<text x="90.7" y="194.95" font-size="8.2" text-anchor="middle" >CD79A</text>
<rect x="157.1" y="234" width="6.4" height="29.5" fill="url(#gC)" />
<text x="167.3" y="240.64" font-size="5.4" >4</text>
<text x="167.3" y="247.04" font-size="5.4" >3</text>
<text x="167.3" y="253.44" font-size="5.4" >2</text>
<text x="167.3" y="259.84" font-size="5.4" >1</text>
<path d="M242.23,201.13 L244.85,202.88 L245.2,208.14 L244.5,212.52 L242.75,221.28 L241.7,224.78 L243.98,227.41 L245.2,233.54 L245.73,240.55 L248.01,244.93 L248.36,247.56 L246.61,249.31 L246.96,254.57 L248.36,261.57 L250.46,265.08 L253.26,270.68 L251.51,271.38 L249.23,269.46 L248.36,273.84 L245.73,279.09 L242.23,282.07 L236.97,282.95 L231.71,281.19 L229.09,277.69 L228.21,274.19 L222.08,272.44 L213.32,272.44 L208.06,270.68 L205.44,265.95 L205.44,258.95 L208.06,256.32 L215.07,255.44 L222.08,252.81 L225.58,247.56 L224.71,240.55 L223.48,233.54 L225.23,227.41 L229.09,224.78 L232.94,225.13 L234.34,219.53 L233.47,210.77 L235.22,205.51 L238.72,202.01 Z" fill="#f47a62" filter="url(#spkC)"/>
<path d="M285.15,213.4 L290.4,215.15 L293.03,221.28 L295.66,230.04 L296.01,235.29 L294.78,240.55 L294.26,244.4 L299.16,247.56 L302.67,252.81 L304.77,261.57 L305.3,270.33 L303.54,279.09 L301.79,286.1 L298.81,289.6 L293.91,288.73 L287.78,289.95 L282.52,293.46 L278.14,297.49 L273.76,299.77 L270.26,298.36 L265.88,293.11 L263.25,287.85 L262.37,281.72 L263.77,275.24 L265.53,277.34 L267.63,282.6 L271.48,286.45 L274.99,281.19 L277.79,273.84 L279.19,265.08 L279.89,256.32 L278.84,251.41 L280.24,246.68 L278.84,240.9 L277.61,233.89 L277.79,224.78 L279.54,217.78 L281.64,214.62 Z" fill="#d2d2d2" filter="url(#spkG)"/>
<path d="M253.61,257.19 L256.24,254.92 L258.87,252.46 L261.5,250.19 L265,250.71 L269.38,253.69 L274.64,253.69 L279.54,251.94 L280.94,253.16 L280.59,255.62 L274.64,256.32 L269.38,256.67 L265,255.97 L260.62,255.62 L257.12,257.37 L254.14,258.42 Z" fill="#f08a70" filter="url(#spkCs)"/>
<line x1="196.7" y1="192.7" x2="196.7" y2="306.1" stroke="#999" stroke-width="0.9" />
<line x1="196.7" y1="306.1" x2="314.2" y2="306.1" stroke="#999" stroke-width="0.9" />
<line x1="194.5" y1="202.9" x2="196.7" y2="202.9" stroke="#333" stroke-width="0.85" />
<text x="193.5" y="204.92" font-size="5.6" text-anchor="end" >10</text>
<line x1="194.5" y1="228.5" x2="196.7" y2="228.5" stroke="#333" stroke-width="0.85" />
<text x="193.5" y="230.52" font-size="5.6" text-anchor="end" >5</text>
<line x1="194.5" y1="254.5" x2="196.7" y2="254.5" stroke="#333" stroke-width="0.85" />
<text x="193.5" y="256.52" font-size="5.6" text-anchor="end" >0</text>
<line x1="194.5" y1="280.1" x2="196.7" y2="280.1" stroke="#333" stroke-width="0.85" />
<text x="193.5" y="282.12" font-size="5.6" text-anchor="end" >−5</text>
<line x1="194.5" y1="306.1" x2="196.7" y2="306.1" stroke="#333" stroke-width="0.85" />
<text x="193.5" y="308.12" font-size="5.6" text-anchor="end" >−10</text>
<line x1="215.7" y1="306.1" x2="215.7" y2="308.3" stroke="#333" stroke-width="0.85" />
<text x="215.7" y="313.52" font-size="5.6" text-anchor="middle" >−10</text>
<line x1="238" y1="306.1" x2="238" y2="308.3" stroke="#333" stroke-width="0.85" />
<text x="238" y="313.52" font-size="5.6" text-anchor="middle" >−5</text>
<line x1="260.3" y1="306.1" x2="260.3" y2="308.3" stroke="#333" stroke-width="0.85" />
<text x="260.3" y="313.52" font-size="5.6" text-anchor="middle" >0</text>
<line x1="282.6" y1="306.1" x2="282.6" y2="308.3" stroke="#333" stroke-width="0.85" />
<text x="282.6" y="313.52" font-size="5.6" text-anchor="middle" >5</text>
<line x1="304.9" y1="306.1" x2="304.9" y2="308.3" stroke="#333" stroke-width="0.85" />
<text x="304.9" y="313.52" font-size="5.6" text-anchor="middle" >10</text>
<text x="256" y="321.39" font-size="7.2" text-anchor="middle" >UMAP_1</text>
<text transform="translate(180.4,249.5) rotate(-90)" x="0" y="2.59" font-size="7.2" text-anchor="middle" >UMAP_2</text>
<text x="265" y="194.95" font-size="8.2" text-anchor="middle" font-style="italic" >MS4A1</text>
<rect x="324.9" y="234" width="6.4" height="29.5" fill="url(#gC)" />
<text x="335.1" y="239.84" font-size="5.4" >4</text>
<text x="335.1" y="246.24" font-size="5.4" >3</text>
<text x="335.1" y="252.64" font-size="5.4" >2</text>
<text x="335.1" y="259.54" font-size="5.4" >1</text>
<text x="335.1" y="266.14" font-size="5.4" >0</text>
<path d="M410.03,201.13 L412.65,202.88 L413,208.14 L412.3,212.52 L410.55,221.28 L409.5,224.78 L411.78,227.41 L413,233.54 L413.53,240.55 L415.81,244.93 L416.16,247.56 L414.41,249.31 L414.76,254.57 L416.16,261.57 L418.26,265.08 L421.06,270.68 L419.31,271.38 L417.03,269.46 L416.16,273.84 L413.53,279.09 L410.03,282.07 L404.77,282.95 L399.51,281.19 L396.89,277.69 L396.01,274.19 L389.88,272.44 L381.12,272.44 L375.86,270.68 L373.24,265.95 L373.24,258.95 L375.86,256.32 L382.87,255.44 L389.88,252.81 L393.38,247.56 L392.51,240.55 L391.28,233.54 L393.03,227.41 L396.89,224.78 L400.74,225.13 L402.14,219.53 L401.27,210.77 L403.02,205.51 L406.52,202.01 Z" fill="#d2d2d2" filter="url(#spkG)"/>
<path d="M452.95,213.4 L458.2,215.15 L460.83,221.28 L463.46,230.04 L463.81,235.29 L462.58,240.55 L462.06,244.4 L466.96,247.56 L470.47,252.81 L472.57,261.57 L473.1,270.33 L471.34,279.09 L469.59,286.1 L466.61,289.6 L461.71,288.73 L455.58,289.95 L450.32,293.46 L445.94,297.49 L441.56,299.77 L438.06,298.36 L433.68,293.11 L431.05,287.85 L430.17,281.72 L431.57,275.24 L433.33,277.34 L435.43,282.6 L439.28,286.45 L442.79,281.19 L445.59,273.84 L446.99,265.08 L447.69,256.32 L446.64,251.41 L448.04,246.68 L446.64,240.9 L445.41,233.89 L445.59,224.78 L447.34,217.78 L449.44,214.62 Z" fill="#eea290" filter="url(#spkCs)"/>
<path d="M421.41,257.19 L424.04,254.92 L426.67,252.46 L429.3,250.19 L432.8,250.71 L437.18,253.69 L442.44,253.69 L447.34,251.94 L448.74,253.16 L448.39,255.62 L442.44,256.32 L437.18,256.67 L432.8,255.97 L428.42,255.62 L424.92,257.37 L421.94,258.42 Z" fill="#eaa898" filter="url(#spkCs)"/>
<line x1="364.5" y1="192.7" x2="364.5" y2="306.1" stroke="#999" stroke-width="0.9" />
<line x1="364.5" y1="306.1" x2="482" y2="306.1" stroke="#999" stroke-width="0.9" />
<line x1="362.3" y1="202.9" x2="364.5" y2="202.9" stroke="#333" stroke-width="0.85" />
<text x="361.3" y="204.92" font-size="5.6" text-anchor="end" >10</text>
<line x1="362.3" y1="228.5" x2="364.5" y2="228.5" stroke="#333" stroke-width="0.85" />
<text x="361.3" y="230.52" font-size="5.6" text-anchor="end" >5</text>
<line x1="362.3" y1="254.5" x2="364.5" y2="254.5" stroke="#333" stroke-width="0.85" />
<text x="361.3" y="256.52" font-size="5.6" text-anchor="end" >0</text>
<line x1="362.3" y1="280.1" x2="364.5" y2="280.1" stroke="#333" stroke-width="0.85" />
<text x="361.3" y="282.12" font-size="5.6" text-anchor="end" >−5</text>
<line x1="362.3" y1="306.1" x2="364.5" y2="306.1" stroke="#333" stroke-width="0.85" />
<text x="361.3" y="308.12" font-size="5.6" text-anchor="end" >−10</text>
<line x1="383.5" y1="306.1" x2="383.5" y2="308.3" stroke="#333" stroke-width="0.85" />
<text x="383.5" y="313.52" font-size="5.6" text-anchor="middle" >−10</text>
<line x1="405.8" y1="306.1" x2="405.8" y2="308.3" stroke="#333" stroke-width="0.85" />
<text x="405.8" y="313.52" font-size="5.6" text-anchor="middle" >−5</text>
<line x1="428.1" y1="306.1" x2="428.1" y2="308.3" stroke="#333" stroke-width="0.85" />
<text x="428.1" y="313.52" font-size="5.6" text-anchor="middle" >0</text>
<line x1="450.4" y1="306.1" x2="450.4" y2="308.3" stroke="#333" stroke-width="0.85" />
<text x="450.4" y="313.52" font-size="5.6" text-anchor="middle" >5</text>
<line x1="472.7" y1="306.1" x2="472.7" y2="308.3" stroke="#333" stroke-width="0.85" />
<text x="472.7" y="313.52" font-size="5.6" text-anchor="middle" >10</text>
<text x="423.8" y="321.39" font-size="7.2" text-anchor="middle" >UMAP_1</text>
<text transform="translate(348.2,249.5) rotate(-90)" x="0" y="2.59" font-size="7.2" text-anchor="middle" >UMAP_2</text>
<text x="432.5" y="194.95" font-size="8.2" text-anchor="middle" font-style="italic" >SDC1</text>
<rect x="492.7" y="234" width="6.4" height="29.5" fill="url(#gC)" />
<text x="502.9" y="246.24" font-size="5.4" >2</text>
<text x="502.9" y="256.44" font-size="5.4" >1</text>
<text x="502.9" y="265.94" font-size="5.4" >0</text>
<path d="M577.83,201.13 L580.45,202.88 L580.8,208.14 L580.1,212.52 L578.35,221.28 L577.3,224.78 L579.58,227.41 L580.8,233.54 L581.33,240.55 L583.61,244.93 L583.96,247.56 L582.21,249.31 L582.56,254.57 L583.96,261.57 L586.06,265.08 L588.86,270.68 L587.11,271.38 L584.83,269.46 L583.96,273.84 L581.33,279.09 L577.83,282.07 L572.57,282.95 L567.31,281.19 L564.69,277.69 L563.81,274.19 L557.68,272.44 L548.92,272.44 L543.66,270.68 L541.04,265.95 L541.04,258.95 L543.66,256.32 L550.67,255.44 L557.68,252.81 L561.18,247.56 L560.31,240.55 L559.08,233.54 L560.83,227.41 L564.69,224.78 L568.54,225.13 L569.94,219.53 L569.07,210.77 L570.82,205.51 L574.32,202.01 Z" fill="#d2d2d2" filter="url(#spkG)"/>
<path d="M620.75,213.4 L626,215.15 L628.63,221.28 L631.26,230.04 L631.61,235.29 L630.38,240.55 L629.86,244.4 L634.76,247.56 L638.27,252.81 L640.37,261.57 L640.9,270.33 L639.14,279.09 L637.39,286.1 L634.41,289.6 L629.51,288.73 L623.38,289.95 L618.12,293.46 L613.74,297.49 L609.36,299.77 L605.86,298.36 L601.48,293.11 L598.85,287.85 L597.97,281.72 L599.37,275.24 L601.13,277.34 L603.23,282.6 L607.08,286.45 L610.59,281.19 L613.39,273.84 L614.79,265.08 L615.49,256.32 L614.44,251.41 L615.84,246.68 L614.44,240.9 L613.21,233.89 L613.39,224.78 L615.14,217.78 L617.24,214.62 Z" fill="#d2d2d2" filter="url(#spkG)"/>
<path d="M589.21,257.19 L591.84,254.92 L594.47,252.46 L597.1,250.19 L600.6,250.71 L604.98,253.69 L610.24,253.69 L615.14,251.94 L616.54,253.16 L616.19,255.62 L610.24,256.32 L604.98,256.67 L600.6,255.97 L596.22,255.62 L592.72,257.37 L589.74,258.42 Z" fill="#f0806a" filter="url(#spkCs)"/>
<line x1="532.3" y1="192.7" x2="532.3" y2="306.1" stroke="#999" stroke-width="0.9" />
<line x1="532.3" y1="306.1" x2="649.8" y2="306.1" stroke="#999" stroke-width="0.9" />
<line x1="530.1" y1="202.9" x2="532.3" y2="202.9" stroke="#333" stroke-width="0.85" />
<text x="529.1" y="204.92" font-size="5.6" text-anchor="end" >10</text>
<line x1="530.1" y1="228.5" x2="532.3" y2="228.5" stroke="#333" stroke-width="0.85" />
<text x="529.1" y="230.52" font-size="5.6" text-anchor="end" >5</text>
<line x1="530.1" y1="254.5" x2="532.3" y2="254.5" stroke="#333" stroke-width="0.85" />
<text x="529.1" y="256.52" font-size="5.6" text-anchor="end" >0</text>
<line x1="530.1" y1="280.1" x2="532.3" y2="280.1" stroke="#333" stroke-width="0.85" />
<text x="529.1" y="282.12" font-size="5.6" text-anchor="end" >−5</text>
<line x1="530.1" y1="306.1" x2="532.3" y2="306.1" stroke="#333" stroke-width="0.85" />
<text x="529.1" y="308.12" font-size="5.6" text-anchor="end" >−10</text>
<line x1="551.3" y1="306.1" x2="551.3" y2="308.3" stroke="#333" stroke-width="0.85" />
<text x="551.3" y="313.52" font-size="5.6" text-anchor="middle" >−10</text>
<line x1="573.6" y1="306.1" x2="573.6" y2="308.3" stroke="#333" stroke-width="0.85" />
<text x="573.6" y="313.52" font-size="5.6" text-anchor="middle" >−5</text>
<line x1="595.9" y1="306.1" x2="595.9" y2="308.3" stroke="#333" stroke-width="0.85" />
<text x="595.9" y="313.52" font-size="5.6" text-anchor="middle" >0</text>
<line x1="618.2" y1="306.1" x2="618.2" y2="308.3" stroke="#333" stroke-width="0.85" />
<text x="618.2" y="313.52" font-size="5.6" text-anchor="middle" >5</text>
<line x1="640.5" y1="306.1" x2="640.5" y2="308.3" stroke="#333" stroke-width="0.85" />
<text x="640.5" y="313.52" font-size="5.6" text-anchor="middle" >10</text>
<text x="591.6" y="321.39" font-size="7.2" text-anchor="middle" >UMAP_1</text>
<text transform="translate(516,249.5) rotate(-90)" x="0" y="2.59" font-size="7.2" text-anchor="middle" >UMAP_2</text>
<text x="592.3" y="194.95" font-size="8.2" text-anchor="middle" font-style="italic" >MKI67</text>
<rect x="660.5" y="234" width="6.4" height="29.5" fill="url(#gC)" />
<text x="670.7" y="239.84" font-size="5.4" >3</text>
<text x="670.7" y="248.84" font-size="5.4" >2</text>
<text x="670.7" y="257.74" font-size="5.4" >1</text>
<text x="670.7" y="266.14" font-size="5.4" >0</text>
<text x="23.8" y="358.43" font-size="12.3" font-weight="bold" >D</text>
<text x="50.3" y="351.82" font-size="8.4" >Cells:</text>
<text x="93.6" y="351.82" font-size="8.4" text-anchor="middle" >4459</text>
<text x="128.5" y="351.82" font-size="8.4" text-anchor="middle" >8625</text>
<rect x="82" y="455.85" width="23" height="1.45" fill="#f0e27f" />
<rect x="82" y="420.24" width="23" height="35.61" fill="#719a52" />
<rect x="82" y="401.81" width="23" height="18.43" fill="#cd3c2e" />
<rect x="82" y="360.8" width="23" height="41.01" fill="#5050ff" />
<rect x="116.9" y="454.89" width="23.2" height="2.41" fill="#f0e27f" />
<rect x="116.9" y="400.46" width="23.2" height="54.43" fill="#719a52" />
<rect x="116.9" y="382.51" width="23.2" height="17.95" fill="#cd3c2e" />
<rect x="116.9" y="360.8" width="23.2" height="21.71" fill="#5050ff" />
<line x1="69.5" y1="357" x2="69.5" y2="457.3" stroke="#333" stroke-width="0.9" />
<line x1="69.5" y1="457.3" x2="152" y2="457.3" stroke="#333" stroke-width="0.9" />
<line x1="66.8" y1="457.3" x2="69.5" y2="457.3" stroke="#333" stroke-width="0.9" />
<text x="66.3" y="460.32" font-size="8.4" text-anchor="end" >0</text>
<line x1="66.8" y1="433.18" x2="69.5" y2="433.18" stroke="#333" stroke-width="0.9" />
<text x="66.3" y="436.2" font-size="8.4" text-anchor="end" >25</text>
<line x1="66.8" y1="409.05" x2="69.5" y2="409.05" stroke="#333" stroke-width="0.9" />
<text x="66.3" y="412.07" font-size="8.4" text-anchor="end" >50</text>
<line x1="66.8" y1="384.93" x2="69.5" y2="384.93" stroke="#333" stroke-width="0.9" />
<text x="66.3" y="387.95" font-size="8.4" text-anchor="end" >75</text>
<line x1="66.8" y1="360.8" x2="69.5" y2="360.8" stroke="#333" stroke-width="0.9" />
<text x="66.3" y="363.82" font-size="8.4" text-anchor="end" >100</text>
<line x1="93.5" y1="457.3" x2="93.5" y2="459.5" stroke="#333" stroke-width="0.85" />
<line x1="128.5" y1="457.3" x2="128.5" y2="459.5" stroke="#333" stroke-width="0.85" />
<text x="93.5" y="468.52" font-size="8.4" text-anchor="middle" >HPV<tspan font-size="5.71" dy="-3.36">-</tspan></text>
<text x="128.5" y="468.52" font-size="8.4" text-anchor="middle" >HPV<tspan font-size="5.71" dy="-3.36">+</tspan></text>
<text x="110" y="478.72" font-size="8.4" text-anchor="middle" >Groups</text>
<text transform="translate(47.4,407.4) rotate(-90)" x="0" y="3.02" font-size="8.4" text-anchor="middle" >Relative proportion (%)</text>
<text x="153.3" y="378.32" font-size="8.4" >Cluster</text>
<rect x="154.2" y="383.7" width="10.3" height="6.6" fill="#5050ff" />
<text x="171.5" y="390.02" font-size="8.4" >C1</text>
<rect x="154.2" y="398.3" width="10.3" height="6.6" fill="#cd3c2e" />
<text x="171.5" y="404.62" font-size="8.4" >C2</text>
<rect x="154.2" y="412.9" width="10.3" height="6.6" fill="#719a52" />
<text x="171.5" y="419.22" font-size="8.4" >C3</text>
<rect x="154.2" y="427.2" width="10.3" height="6.6" fill="#f0e27f" />
<text x="171.5" y="433.52" font-size="8.4" >C4</text>
<text x="217.4" y="358.63" font-size="12.3" font-weight="bold" >E</text>
<text x="309.7" y="344.9" font-size="8.6" text-anchor="middle" >HPV<tspan font-size="5.85" dy="-3.44">+</tspan><tspan dy="3.4"> vs. HPV</tspan><tspan font-size="5.2" dy="-3.4">-</tspan></text>
<text x="311.8" y="356.17" font-size="8.8" text-anchor="middle" >(TIL-Bs)</text>
<line x1="242.2" y1="351.3" x2="242.2" y2="473.9" stroke="#333" stroke-width="0.85" />
<line x1="242.2" y1="473.9" x2="388" y2="473.9" stroke="#333" stroke-width="0.85" />
<line x1="240" y1="372.3" x2="242.2" y2="372.3" stroke="#333" stroke-width="0.85" />
<text x="239.2" y="374.96" font-size="7.4" text-anchor="end" >1</text>
<line x1="240" y1="404.1" x2="242.2" y2="404.1" stroke="#333" stroke-width="0.85" />
<text x="239.2" y="406.76" font-size="7.4" text-anchor="end" >0</text>
<line x1="240" y1="436.5" x2="242.2" y2="436.5" stroke="#333" stroke-width="0.85" />
<text x="239.2" y="439.16" font-size="7.4" text-anchor="end" >−1</text>
<line x1="240" y1="469" x2="242.2" y2="469" stroke="#333" stroke-width="0.85" />
<text x="239.2" y="471.66" font-size="7.4" text-anchor="end" >−2</text>
<line x1="248.6" y1="473.9" x2="248.6" y2="476.1" stroke="#333" stroke-width="0.85" />
<text x="248.6" y="483.97" font-size="7.7" text-anchor="middle" >0</text>
<line x1="288.2" y1="473.9" x2="288.2" y2="476.1" stroke="#333" stroke-width="0.85" />
<text x="288.2" y="483.97" font-size="7.7" text-anchor="middle" >2000</text>
<line x1="327.8" y1="473.9" x2="327.8" y2="476.1" stroke="#333" stroke-width="0.85" />
<text x="327.8" y="483.97" font-size="7.7" text-anchor="middle" >4000</text>
<line x1="367.4" y1="473.9" x2="367.4" y2="476.1" stroke="#333" stroke-width="0.85" />
<text x="367.4" y="483.97" font-size="7.7" text-anchor="middle" >6000</text>
<text x="315" y="491.4" font-size="7.3" text-anchor="middle" >rank</text>
<text transform="translate(227.2,412.3) rotate(-90)" x="0" y="2.66" font-size="7.4" text-anchor="middle" >avg_log2FC</text>
<path d="M248.2,382.9 L249.2,390.1 L250.5,394.5 L252.3,397.2 L256,399.2 L260.4,400.3 L270,401.5 L280.9,402.3 L300,403.8 L321.7,405.4 L340,407.8 L352.4,410.5 L360,412.8 L366.7,415.2 L371.5,418 L375.2,421.2 L378,425.5 L380,431 L381,437 L381.3,443.5" fill="none" stroke="#c2c2c2" stroke-width="4.6" stroke-linecap="round" stroke-linejoin="round"/>
<circle cx="381.2" cy="447.2" r="1.6" fill="none" stroke="#bdbdbd" stroke-width="0.5" />
<circle cx="381.2" cy="451.2" r="1.6" fill="none" stroke="#bdbdbd" stroke-width="0.5" />
<circle cx="381.2" cy="454.8" r="1.6" fill="none" stroke="#bdbdbd" stroke-width="0.5" />
<circle cx="381.2" cy="458.2" r="1.6" fill="none" stroke="#bdbdbd" stroke-width="0.5" />
<path d="M246.5,368 L250.8,368 L251.5,378 L251.2,388 L249,391 L247,388 L246.2,378 Z" fill="#ee1c1c" />
<circle cx="247.5" cy="369" r="1.7" fill="#ee1c1c" />
<circle cx="249.8" cy="370" r="1.7" fill="#ee1c1c" />
<circle cx="247.2" cy="373" r="1.7" fill="#ee1c1c" />
<circle cx="250.2" cy="376" r="1.7" fill="#ee1c1c" />
<circle cx="248" cy="380" r="1.7" fill="#ee1c1c" />
<circle cx="250.5" cy="383" r="1.7" fill="#ee1c1c" />
<circle cx="247.5" cy="386" r="1.7" fill="#ee1c1c" />
<circle cx="249.5" cy="389" r="1.7" fill="#ee1c1c" />
<text x="243.6" y="364.67" font-size="6.3" >MZB1-IGHG2</text>
<text x="251" y="372.57" font-size="6.3" >IGLC2</text>
<text x="251" y="379.87" font-size="6.3" >IGLC1</text>
<text x="244.5" y="387.67" font-size="6.3" >IGHA1-IGKC</text>
<text x="254" y="395.87" font-size="6.3" >XBP1</text>
<line x1="249" y1="366" x2="255" y2="362.8" stroke="#333" stroke-width="0.3" />
<line x1="249" y1="386" x2="256" y2="384.5" stroke="#333" stroke-width="0.3" />
<line x1="250" y1="390" x2="253.8" y2="392.8" stroke="#333" stroke-width="0.3" />
<text x="296.2" y="377.88" font-size="9.1" fill="#e8231a" >65 DEGs</text>
<text x="430.4" y="350.03" font-size="12.3" font-weight="bold" >F</text>
<text x="521.2" y="342.88" font-size="9.1" >GO: Biological Process</text>
<line x1="521" y1="348.7" x2="521" y2="473.8" stroke="#333" stroke-width="0.85" />
<line x1="521" y1="473.8" x2="619.2" y2="473.8" stroke="#333" stroke-width="0.85" />
<line x1="519" y1="360.4" x2="521" y2="360.4" stroke="#333" stroke-width="0.85" />
<text x="517.6" y="363.13" font-size="7.58" text-anchor="end" >immunoglobulin production</text>
<line x1="519" y1="380.7" x2="521" y2="380.7" stroke="#333" stroke-width="0.85" />
<text x="517.6" y="383.43" font-size="7.58" text-anchor="end" >cell recognition</text>
<line x1="519" y1="400.8" x2="521" y2="400.8" stroke="#333" stroke-width="0.85" />
<text x="517.6" y="403.53" font-size="7.58" text-anchor="end" >B cell activation</text>
<line x1="519" y1="421.1" x2="521" y2="421.1" stroke="#333" stroke-width="0.85" />
<text x="517.6" y="423.83" font-size="7.58" text-anchor="end" >B cell mediated immunity</text>
<line x1="519" y1="441.5" x2="521" y2="441.5" stroke="#333" stroke-width="0.85" />
<text x="517.6" y="444.23" font-size="7.58" text-anchor="end" >humoral immune response</text>
<line x1="519" y1="461.8" x2="521" y2="461.8" stroke="#333" stroke-width="0.85" />
<text x="517.6" y="464.53" font-size="7.58" text-anchor="end" >B cell receptor signaling pathway</text>
<line x1="539.3" y1="473.8" x2="539.3" y2="476" stroke="#333" stroke-width="0.85" />
<text x="539.3" y="483.15" font-size="6.8" text-anchor="middle" >4</text>
<line x1="558.5" y1="473.8" x2="558.5" y2="476" stroke="#333" stroke-width="0.85" />
<text x="558.5" y="483.15" font-size="6.8" text-anchor="middle" >5</text>
<line x1="577.9" y1="473.8" x2="577.9" y2="476" stroke="#333" stroke-width="0.85" />
<text x="577.9" y="483.15" font-size="6.8" text-anchor="middle" >6</text>
<line x1="597.5" y1="473.8" x2="597.5" y2="476" stroke="#333" stroke-width="0.85" />
<text x="597.5" y="483.15" font-size="6.8" text-anchor="middle" >7</text>
<line x1="617" y1="473.8" x2="617" y2="476" stroke="#333" stroke-width="0.85" />
<text x="617" y="483.15" font-size="6.8" text-anchor="middle" >8</text>
<text x="570.5" y="491.12" font-size="7" text-anchor="middle" >−log10(pvalue)</text>
<circle cx="525.8" cy="360.3" r="1.5" fill="#cc0a0a" />
<circle cx="558.1" cy="380.6" r="2.7" fill="#de5242" />
<circle cx="577.3" cy="400.8" r="2.8" fill="#eaa39c" />
<circle cx="581.2" cy="421" r="2.8" fill="#e26454" />
<circle cx="606.2" cy="441.3" r="3.2" fill="#f3cccc" />
<circle cx="615.6" cy="461.5" r="2.9" fill="#e05a4a" />
<text x="631.3" y="356.19" font-size="5.8" >Count</text>
<circle cx="635.6" cy="363.7" r="1.3" fill="#000" />
<text x="643.3" y="365.79" font-size="5.8" >5</text>
<circle cx="635.6" cy="370.7" r="1.66" fill="#000" />
<text x="643.3" y="372.79" font-size="5.8" >6</text>
<circle cx="635.6" cy="377.4" r="2.02" fill="#000" />
<text x="643.3" y="379.49" font-size="5.8" >7</text>
<circle cx="635.6" cy="384.7" r="2.38" fill="#000" />
<text x="643.3" y="386.79" font-size="5.8" >8</text>
<circle cx="635.6" cy="392.6" r="2.74" fill="#000" />
<text x="643.3" y="394.69" font-size="5.8" >9</text>
<circle cx="635.6" cy="400.3" r="3.1" fill="#000" />
<text x="643.3" y="402.39" font-size="5.8" >10</text>
<circle cx="635.6" cy="408.8" r="3.46" fill="#000" />
<text x="643.3" y="410.89" font-size="5.8" >11</text>
<text x="631.3" y="433.29" font-size="5.8" >GeneRatio</text>
<linearGradient id="gF" x1="0" y1="0" x2="0" y2="1"><stop offset="0" stop-color="#f6d6d6"/><stop offset="1" stop-color="#cc0000"/></linearGradient>
<rect x="631.3" y="437.9" width="6.7" height="33" fill="url(#gF)" />
<text x="641.6" y="442.19" font-size="5.8" >0.175</text>
<text x="641.6" y="450.09" font-size="5.8" >0.150</text>
<text x="641.6" y="458.29" font-size="5.8" >0.125</text>
<text x="641.6" y="466.49" font-size="5.8" >0.100</text>
<text x="10.5" y="517.83" font-size="12.3" font-weight="bold" >G</text>
<text x="89.9" y="525.48" font-size="10.5" text-anchor="middle" >CD138 IHC score</text>
<rect x="37.3" y="529.3" width="22.84" height="19.2" fill="#eaddcb" stroke="#333" stroke-width="0.6" />
<rect x="60.14" y="529.3" width="48.66" height="19.2" fill="#d6bb9d" stroke="#333" stroke-width="0.6" />
<rect x="108.8" y="529.3" width="18.87" height="19.2" fill="#c29b6f" stroke="#333" stroke-width="0.6" />
<rect x="127.66" y="529.3" width="8.94" height="19.2" fill="#a8783f" stroke="#333" stroke-width="0.6" />
<rect x="37.3" y="555.4" width="5.96" height="19.7" fill="#eaddcb" stroke="#333" stroke-width="0.6" />
<rect x="43.26" y="555.4" width="9.14" height="19.7" fill="#d6bb9d" stroke="#333" stroke-width="0.6" />
<rect x="52.39" y="555.4" width="39.02" height="19.7" fill="#c29b6f" stroke="#333" stroke-width="0.6" />
<rect x="91.42" y="555.4" width="45.18" height="19.7" fill="#a8783f" stroke="#333" stroke-width="0.6" />
<line x1="37.3" y1="581.3" x2="136.6" y2="581.3" stroke="#333" stroke-width="0.85" />
<line x1="37.3" y1="581.3" x2="37.3" y2="583.8" stroke="#333" stroke-width="0.85" />
<text x="37.3" y="593.1" font-size="8.6" text-anchor="middle" >0</text>
<line x1="62.12" y1="581.3" x2="62.12" y2="583.8" stroke="#333" stroke-width="0.85" />
<text x="62.12" y="593.1" font-size="8.6" text-anchor="middle" >0.25</text>
<line x1="86.95" y1="581.3" x2="86.95" y2="583.8" stroke="#333" stroke-width="0.85" />
<text x="86.95" y="593.1" font-size="8.6" text-anchor="middle" >0.5</text>
<line x1="111.77" y1="581.3" x2="111.77" y2="583.8" stroke="#333" stroke-width="0.85" />
<text x="111.77" y="593.1" font-size="8.6" text-anchor="middle" >0.75</text>
<line x1="136.6" y1="581.3" x2="136.6" y2="583.8" stroke="#333" stroke-width="0.85" />
<text x="136.6" y="593.1" font-size="8.6" text-anchor="middle" >1</text>
<text x="90.95" y="605.34" font-size="10.4" text-anchor="middle" >Proportion</text>
<text x="19.9" y="538.6" font-size="8.6" text-anchor="middle" >HPV<tspan font-size="5.85" dy="-3.44">-</tspan></text>
<text x="19.9" y="548.6" font-size="8.6" text-anchor="middle" >(n=52)</text>
<text x="19.9" y="563.4" font-size="8.6" text-anchor="middle" >HPV<tspan font-size="5.85" dy="-3.44">+</tspan></text>
<text x="19.9" y="573.6" font-size="8.6" text-anchor="middle" >(n=33)</text>
<text x="143" y="533.3" font-size="6.4" >Scale</text>
<rect x="144.9" y="537.1" width="4.2" height="4.2" fill="#ffffff" stroke="#333" stroke-width="0.5" />
<text x="151.8" y="541.5" font-size="6.4" >0</text>
<rect x="144.9" y="546.2" width="4.2" height="4.2" fill="#eaddcb" stroke="#333" stroke-width="0.5" />
<text x="151.8" y="550.6" font-size="6.4" >1</text>
<rect x="144.9" y="555.2" width="4.2" height="4.2" fill="#d6bb9d" stroke="#333" stroke-width="0.5" />
<text x="151.8" y="559.6" font-size="6.4" >2</text>
<rect x="144.9" y="564.1" width="4.2" height="4.2" fill="#c29b6f" stroke="#333" stroke-width="0.5" />
<text x="151.8" y="568.5" font-size="6.4" >3</text>
<rect x="144.9" y="573.2" width="4.2" height="4.2" fill="#a8783f" stroke="#333" stroke-width="0.5" />
<text x="151.8" y="577.6" font-size="6.4" >4</text>
<text x="181.7" y="517.83" font-size="12.3" font-weight="bold" >H</text>
<text x="256.9" y="524.38" font-size="10.5" text-anchor="middle" >IgA IHC score</text>
<rect x="204.6" y="528.5" width="5.94" height="20.1" fill="#ffffff" stroke="#333" stroke-width="0.6" />
<rect x="210.54" y="528.5" width="54.45" height="20.1" fill="#eaddcb" stroke="#333" stroke-width="0.6" />
<rect x="264.99" y="528.5" width="34.65" height="20.1" fill="#d6bb9d" stroke="#333" stroke-width="0.6" />
<rect x="299.64" y="528.5" width="3.96" height="20.1" fill="#c29b6f" stroke="#333" stroke-width="0.6" />
<rect x="204.6" y="553.3" width="9.11" height="20.3" fill="#eaddcb" stroke="#333" stroke-width="0.6" />
<rect x="213.71" y="553.3" width="11.88" height="20.3" fill="#d6bb9d" stroke="#333" stroke-width="0.6" />
<rect x="225.59" y="553.3" width="51.18" height="20.3" fill="#c29b6f" stroke="#333" stroke-width="0.6" />
<rect x="276.77" y="553.3" width="26.83" height="20.3" fill="#a8783f" stroke="#333" stroke-width="0.6" />
<line x1="204.6" y1="579.4" x2="303.6" y2="579.4" stroke="#333" stroke-width="0.85" />
<line x1="204.6" y1="579.4" x2="204.6" y2="581.9" stroke="#333" stroke-width="0.85" />
<text x="204.6" y="591.9" font-size="8.6" text-anchor="middle" >0</text>
<line x1="229.35" y1="579.4" x2="229.35" y2="581.9" stroke="#333" stroke-width="0.85" />
<text x="229.35" y="591.9" font-size="8.6" text-anchor="middle" >0.25</text>
<line x1="254.1" y1="579.4" x2="254.1" y2="581.9" stroke="#333" stroke-width="0.85" />
<text x="254.1" y="591.9" font-size="8.6" text-anchor="middle" >0.5</text>
<line x1="278.85" y1="579.4" x2="278.85" y2="581.9" stroke="#333" stroke-width="0.85" />
<text x="278.85" y="591.9" font-size="8.6" text-anchor="middle" >0.75</text>
<line x1="303.6" y1="579.4" x2="303.6" y2="581.9" stroke="#333" stroke-width="0.85" />
<text x="303.6" y="591.9" font-size="8.6" text-anchor="middle" >1</text>
<text x="258.1" y="604.14" font-size="10.4" text-anchor="middle" >Proportion</text>
<text x="188.7" y="537" font-size="8.6" text-anchor="middle" >HPV<tspan font-size="5.85" dy="-3.44">-</tspan></text>
<text x="188.7" y="547.5" font-size="8.6" text-anchor="middle" >(n=52)</text>
<text x="188.7" y="561" font-size="8.6" text-anchor="middle" >HPV<tspan font-size="5.85" dy="-3.44">+</tspan></text>
<text x="188.7" y="572.7" font-size="8.6" text-anchor="middle" >(n=33)</text>
<text x="310.2" y="532.2" font-size="6.4" >Scale</text>
<rect x="311.8" y="535.7" width="4.2" height="4.2" fill="#ffffff" stroke="#333" stroke-width="0.5" />
<text x="319.5" y="540.1" font-size="6.4" >0</text>
<rect x="311.8" y="545.5" width="4.2" height="4.2" fill="#eaddcb" stroke="#333" stroke-width="0.5" />
<text x="319.5" y="549.9" font-size="6.4" >1</text>
<rect x="311.8" y="554.5" width="4.2" height="4.2" fill="#d6bb9d" stroke="#333" stroke-width="0.5" />
<text x="319.5" y="558.9" font-size="6.4" >2</text>
<rect x="311.8" y="563.3" width="4.2" height="4.2" fill="#c29b6f" stroke="#333" stroke-width="0.5" />
<text x="319.5" y="567.7" font-size="6.4" >3</text>
<rect x="311.8" y="572.2" width="4.2" height="4.2" fill="#a8783f" stroke="#333" stroke-width="0.5" />
<text x="319.5" y="576.6" font-size="6.4" >4</text>
<text x="353.2" y="517.63" font-size="12.3" font-weight="bold" >I</text>
<text x="424.9" y="520.58" font-size="10.5" text-anchor="middle" >IgG IHC score</text>
<rect x="370.5" y="526.4" width="15.89" height="20.3" fill="#eaddcb" stroke="#333" stroke-width="0.6" />
<rect x="386.39" y="526.4" width="29.25" height="20.3" fill="#d6bb9d" stroke="#333" stroke-width="0.6" />
<rect x="415.64" y="526.4" width="42.61" height="20.3" fill="#c29b6f" stroke="#333" stroke-width="0.6" />
<rect x="458.24" y="526.4" width="13.46" height="20.3" fill="#a8783f" stroke="#333" stroke-width="0.6" />
<rect x="370.5" y="552.6" width="12.85" height="20.5" fill="#eaddcb" stroke="#333" stroke-width="0.6" />
<rect x="383.35" y="552.6" width="29.85" height="20.5" fill="#d6bb9d" stroke="#333" stroke-width="0.6" />
<rect x="413.21" y="552.6" width="37.55" height="20.5" fill="#c29b6f" stroke="#333" stroke-width="0.6" />
<rect x="450.75" y="552.6" width="20.95" height="20.5" fill="#a8783f" stroke="#333" stroke-width="0.6" />
<line x1="370.5" y1="577.8" x2="471.7" y2="577.8" stroke="#333" stroke-width="0.85" />
<line x1="370.5" y1="577.8" x2="370.5" y2="580.3" stroke="#333" stroke-width="0.85" />
<text x="370.5" y="590.2" font-size="8.6" text-anchor="middle" >0</text>
<line x1="395.8" y1="577.8" x2="395.8" y2="580.3" stroke="#333" stroke-width="0.85" />
<text x="395.8" y="590.2" font-size="8.6" text-anchor="middle" >0.25</text>
<line x1="421.1" y1="577.8" x2="421.1" y2="580.3" stroke="#333" stroke-width="0.85" />
<text x="421.1" y="590.2" font-size="8.6" text-anchor="middle" >0.5</text>
<line x1="446.4" y1="577.8" x2="446.4" y2="580.3" stroke="#333" stroke-width="0.85" />
<text x="446.4" y="590.2" font-size="8.6" text-anchor="middle" >0.75</text>
<line x1="471.7" y1="577.8" x2="471.7" y2="580.3" stroke="#333" stroke-width="0.85" />
<text x="471.7" y="590.2" font-size="8.6" text-anchor="middle" >1</text>
<text x="425.1" y="601.84" font-size="10.4" text-anchor="middle" >Proportion</text>
<text x="352.5" y="533.5" font-size="8.6" text-anchor="middle" >HPV<tspan font-size="5.85" dy="-3.44">-</tspan></text>
<text x="352.5" y="544" font-size="8.6" text-anchor="middle" >(n=52)</text>
<text x="352.5" y="559.1" font-size="8.6" text-anchor="middle" >HPV<tspan font-size="5.85" dy="-3.44">+</tspan></text>
<text x="352.5" y="569.7" font-size="8.6" text-anchor="middle" >(n=33)</text>
<text x="478" y="529.2" font-size="6.4" >Scale</text>
<rect x="480.3" y="532.9" width="4.2" height="4.2" fill="#ffffff" stroke="#333" stroke-width="0.5" />
<text x="488" y="537.3" font-size="6.4" >0</text>
<rect x="480.3" y="541.8" width="4.2" height="4.2" fill="#eaddcb" stroke="#333" stroke-width="0.5" />
<text x="488" y="546.2" font-size="6.4" >1</text>
<rect x="480.3" y="551.2" width="4.2" height="4.2" fill="#d6bb9d" stroke="#333" stroke-width="0.5" />
<text x="488" y="555.6" font-size="6.4" >2</text>
<rect x="480.3" y="560.5" width="4.2" height="4.2" fill="#c29b6f" stroke="#333" stroke-width="0.5" />
<text x="488" y="564.9" font-size="6.4" >3</text>
<rect x="480.3" y="569.6" width="4.2" height="4.2" fill="#a8783f" stroke="#333" stroke-width="0.5" />
<text x="488" y="574" font-size="6.4" >4</text>
<defs><filter id="tJ1" x="0" y="0" width="1" height="1" filterUnits="objectBoundingBox" color-interpolation-filters="sRGB">
<feTurbulence type="fractalNoise" baseFrequency="0.12" numOctaves="2" seed="3" result="low"/>
<feTurbulence type="fractalNoise" baseFrequency="1.3" numOctaves="1" seed="103" result="high"/>
<feColorMatrix in="low" type="matrix" values="0 0 0 0 0 0 0 0 0 0 0 0 0 0 0 1 0 0 0 0" result="lowR"/>
<feColorMatrix in="low" type="matrix" values="0 0 0 0 0 0 0 0 0 0 0 0 0 0 0 0 1 0 0 0" result="lowG"/>
<feColorMatrix in="high" type="matrix" values="0 0 0 0 0 0 0 0 0 0 0 0 0 0 0 1 0 0 0 0" result="highR"/>
<feComposite in="highR" in2="lowR" operator="arithmetic" k1="0" k2="0.6" k3="0.4" k4="0" result="mix"/>
<feColorMatrix in="mix" type="matrix" values="0 0 0 0 0.78 0 0 0 0 0.68 0 0 0 0 0.6 0 0 0 9 -5.13" result="brown"/>
<feColorMatrix in="lowG" type="matrix" values="0 0 0 0 0.84 0 0 0 0 0.84 0 0 0 0 0.9 0 0 0 8 -4.4" result="lav0"/>
<feComponentTransfer in="lav0" result="lav"><feFuncA type="linear" slope="0.6"/></feComponentTransfer>
<feFlood flood-color="#ece8ec" result="bg"/>
<feMerge result="m"><feMergeNode in="bg"/><feMergeNode in="lav"/><feMergeNode in="brown"/></feMerge>
<feGaussianBlur in="m" stdDeviation="0.45"/>
</filter><filter id="tJ2" x="0" y="0" width="1" height="1" filterUnits="objectBoundingBox" color-interpolation-filters="sRGB">
<feTurbulence type="fractalNoise" baseFrequency="0.12" numOctaves="2" seed="8" result="low"/>
<feTurbulence type="fractalNoise" baseFrequency="1.3" numOctaves="1" seed="108" result="high"/>
<feColorMatrix in="low" type="matrix" values="0 0 0 0 0 0 0 0 0 0 0 0 0 0 0 1 0 0 0 0" result="lowR"/>
<feColorMatrix in="low" type="matrix" values="0 0 0 0 0 0 0 0 0 0 0 0 0 0 0 0 1 0 0 0" result="lowG"/>
<feColorMatrix in="high" type="matrix" values="0 0 0 0 0 0 0 0 0 0 0 0 0 0 0 1 0 0 0 0" result="highR"/>
<feComposite in="highR" in2="lowR" operator="arithmetic" k1="0" k2="0.6" k3="0.4" k4="0" result="mix"/>
<feColorMatrix in="mix" type="matrix" values="0 0 0 0 0.76 0 0 0 0 0.64 0 0 0 0 0.54 0 0 0 9 -4.59" result="brown"/>
<feColorMatrix in="lowG" type="matrix" values="0 0 0 0 0.82 0 0 0 0 0.82 0 0 0 0 0.9 0 0 0 8 -4.4" result="lav0"/>
<feComponentTransfer in="lav0" result="lav"><feFuncA type="linear" slope="0.6"/></feComponentTransfer>
<feFlood flood-color="#e6e4ee" result="bg"/>
<feMerge result="m"><feMergeNode in="bg"/><feMergeNode in="lav"/><feMergeNode in="brown"/></feMerge>
<feGaussianBlur in="m" stdDeviation="0.45"/>
</filter><filter id="tK1" x="0" y="0" width="1" height="1" filterUnits="objectBoundingBox" color-interpolation-filters="sRGB">
<feTurbulence type="fractalNoise" baseFrequency="0.1" numOctaves="2" seed="12" result="low"/>
<feTurbulence type="fractalNoise" baseFrequency="1.3" numOctaves="1" seed="112" result="high"/>
<feColorMatrix in="low" type="matrix" values="0 0 0 0 0 0 0 0 0 0 0 0 0 0 0 1 0 0 0 0" result="lowR"/>
<feColorMatrix in="low" type="matrix" values="0 0 0 0 0 0 0 0 0 0 0 0 0 0 0 0 1 0 0 0" result="lowG"/>
<feColorMatrix in="high" type="matrix" values="0 0 0 0 0 0 0 0 0 0 0 0 0 0 0 1 0 0 0 0" result="highR"/>
<feComposite in="highR" in2="lowR" operator="arithmetic" k1="0" k2="0.6" k3="0.4" k4="0" result="mix"/>
<feColorMatrix in="mix" type="matrix" values="0 0 0 0 0.7 0 0 0 0 0.52 0 0 0 0 0.42 0 0 0 9 -5.13" result="brown"/>
<feColorMatrix in="lowG" type="matrix" values="0 0 0 0 0.76 0 0 0 0 0.76 0 0 0 0 0.88 0 0 0 8 -3.6" result="lav0"/>
<feComponentTransfer in="lav0" result="lav"><feFuncA type="linear" slope="0.7"/></feComponentTransfer>
<feFlood flood-color="#e8e6f0" result="bg"/>
<feMerge result="m"><feMergeNode in="bg"/><feMergeNode in="lav"/><feMergeNode in="brown"/></feMerge>
<feGaussianBlur in="m" stdDeviation="0.45"/>
</filter><filter id="tK2" x="0" y="0" width="1" height="1" filterUnits="objectBoundingBox" color-interpolation-filters="sRGB">
<feTurbulence type="fractalNoise" baseFrequency="0.1" numOctaves="2" seed="15" result="low"/>
<feTurbulence type="fractalNoise" baseFrequency="1.3" numOctaves="1" seed="115" result="high"/>
<feColorMatrix in="low" type="matrix" values="0 0 0 0 0 0 0 0 0 0 0 0 0 0 0 1 0 0 0 0" result="lowR"/>
<feColorMatrix in="low" type="matrix" values="0 0 0 0 0 0 0 0 0 0 0 0 0 0 0 0 1 0 0 0" result="lowG"/>
<feColorMatrix in="high" type="matrix" values="0 0 0 0 0 0 0 0 0 0 0 0 0 0 0 1 0 0 0 0" result="highR"/>
<feComposite in="highR" in2="lowR" operator="arithmetic" k1="0" k2="0.55" k3="0.45" k4="0" result="mix"/>
<feColorMatrix in="mix" type="matrix" values="0 0 0 0 0.58 0 0 0 0 0.38 0 0 0 0 0.27 0 0 0 9 -4.68" result="brown"/>
<feColorMatrix in="lowG" type="matrix" values="0 0 0 0 0.76 0 0 0 0 0.76 0 0 0 0 0.88 0 0 0 8 -4.0" result="lav0"/>
<feComponentTransfer in="lav0" result="lav"><feFuncA type="linear" slope="0.7"/></feComponentTransfer>
<feFlood flood-color="#e8e6f0" result="bg"/>
<feMerge result="m"><feMergeNode in="bg"/><feMergeNode in="lav"/><feMergeNode in="brown"/></feMerge>
<feGaussianBlur in="m" stdDeviation="0.45"/>
</filter><filter id="tL1" x="0" y="0" width="1" height="1" filterUnits="objectBoundingBox" color-interpolation-filters="sRGB">
<feTurbulence type="fractalNoise" baseFrequency="0.1" numOctaves="2" seed="21" result="low"/>
<feTurbulence type="fractalNoise" baseFrequency="1.3" numOctaves="1" seed="121" result="high"/>
<feColorMatrix in="low" type="matrix" values="0 0 0 0 0 0 0 0 0 0 0 0 0 0 0 1 0 0 0 0" result="lowR"/>
<feColorMatrix in="low" type="matrix" values="0 0 0 0 0 0 0 0 0 0 0 0 0 0 0 0 1 0 0 0" result="lowG"/>
<feColorMatrix in="high" type="matrix" values="0 0 0 0 0 0 0 0 0 0 0 0 0 0 0 1 0 0 0 0" result="highR"/>
<feComposite in="highR" in2="lowR" operator="arithmetic" k1="0" k2="0.6" k3="0.4" k4="0" result="mix"/>
<feColorMatrix in="mix" type="matrix" values="0 0 0 0 0.56 0 0 0 0 0.36 0 0 0 0 0.25 0 0 0 9 -4.32" result="brown"/>
<feColorMatrix in="lowG" type="matrix" values="0 0 0 0 0.68 0 0 0 0 0.68 0 0 0 0 0.86 0 0 0 8 -4.0" result="lav0"/>
<feComponentTransfer in="lav0" result="lav"><feFuncA type="linear" slope="0.8"/></feComponentTransfer>
<feFlood flood-color="#eeeaf0" result="bg"/>
<feMerge result="m"><feMergeNode in="bg"/><feMergeNode in="lav"/><feMergeNode in="brown"/></feMerge>
<feGaussianBlur in="m" stdDeviation="0.45"/>
</filter><filter id="tL2" x="0" y="0" width="1" height="1" filterUnits="objectBoundingBox" color-interpolation-filters="sRGB">
<feTurbulence type="fractalNoise" baseFrequency="0.1" numOctaves="2" seed="27" result="low"/>
<feTurbulence type="fractalNoise" baseFrequency="1.3" numOctaves="1" seed="127" result="high"/>
<feColorMatrix in="low" type="matrix" values="0 0 0 0 0 0 0 0 0 0 0 0 0 0 0 1 0 0 0 0" result="lowR"/>
<feColorMatrix in="low" type="matrix" values="0 0 0 0 0 0 0 0 0 0 0 0 0 0 0 0 1 0 0 0" result="lowG"/>
<feColorMatrix in="high" type="matrix" values="0 0 0 0 0 0 0 0 0 0 0 0 0 0 0 1 0 0 0 0" result="highR"/>
<feComposite in="highR" in2="lowR" operator="arithmetic" k1="0" k2="0.6" k3="0.4" k4="0" result="mix"/>
<feColorMatrix in="mix" type="matrix" values="0 0 0 0 0.56 0 0 0 0 0.36 0 0 0 0 0.25 0 0 0 9 -4.41" result="brown"/>
<feColorMatrix in="lowG" type="matrix" values="0 0 0 0 0.68 0 0 0 0 0.68 0 0 0 0 0.86 0 0 0 8 -4.0" result="lav0"/>
<feComponentTransfer in="lav0" result="lav"><feFuncA type="linear" slope="0.8"/></feComponentTransfer>
<feFlood flood-color="#eeeaf0" result="bg"/>
<feMerge result="m"><feMergeNode in="bg"/><feMergeNode in="lav"/><feMergeNode in="brown"/></feMerge>
<feGaussianBlur in="m" stdDeviation="0.45"/>
</filter></defs>
<text x="523.6" y="518.43" font-size="12.3" font-weight="bold" >J</text>
<text x="600.3" y="518.83" font-size="8.7" text-anchor="middle" >CD138 IHC score</text>
<line x1="545.2" y1="526.2" x2="545.2" y2="597.2" stroke="#222" stroke-width="1.1" />
<line x1="545.2" y1="597.2" x2="589.6" y2="597.2" stroke="#222" stroke-width="1.1" />
<line x1="542.4" y1="597.2" x2="545.2" y2="597.2" stroke="#222" stroke-width="1.1" />
<text x="541.4" y="599.9" font-size="7.5" text-anchor="end" >0</text>
<line x1="542.4" y1="583.1" x2="545.2" y2="583.1" stroke="#222" stroke-width="1.1" />
<text x="541.4" y="585.8" font-size="7.5" text-anchor="end" >1</text>
<line x1="542.4" y1="569" x2="545.2" y2="569" stroke="#222" stroke-width="1.1" />
<text x="541.4" y="571.7" font-size="7.5" text-anchor="end" >2</text>
<line x1="542.4" y1="554.9" x2="545.2" y2="554.9" stroke="#222" stroke-width="1.1" />
<text x="541.4" y="557.6" font-size="7.5" text-anchor="end" >3</text>
<line x1="542.4" y1="540.8" x2="545.2" y2="540.8" stroke="#222" stroke-width="1.1" />
<text x="541.4" y="543.5" font-size="7.5" text-anchor="end" >4</text>
<line x1="542.4" y1="526.7" x2="545.2" y2="526.7" stroke="#222" stroke-width="1.1" />
<text x="541.4" y="529.4" font-size="7.5" text-anchor="end" >5</text>
<line x1="558.1" y1="540.8" x2="558.1" y2="554.9" stroke="#222" stroke-width="1.1" />
<line x1="555.1" y1="540.8" x2="561.1" y2="540.8" stroke="#222" stroke-width="1.1" />
<line x1="558.1" y1="569" x2="558.1" y2="583.1" stroke="#222" stroke-width="1.1" />
<line x1="555.1" y1="583.1" x2="561.1" y2="583.1" stroke="#222" stroke-width="1.1" />
<rect x="552.25" y="554.9" width="11.7" height="14.1" fill="#f5c9a2" stroke="#222" stroke-width="1" />
<line x1="556.5" y1="568.3" x2="559.7" y2="568.3" stroke="#111" stroke-width="0.8" />
<line x1="558.1" y1="566.7" x2="558.1" y2="569.9" stroke="#111" stroke-width="0.8" />
<line x1="558.1" y1="597.2" x2="558.1" y2="599.4" stroke="#222" stroke-width="1.1" />
<line x1="577.3" y1="554.9" x2="577.3" y2="583.1" stroke="#222" stroke-width="1.1" />
<line x1="574.3" y1="583.1" x2="580.3" y2="583.1" stroke="#222" stroke-width="1.1" />
<rect x="571.55" y="540.8" width="11.5" height="14.1" fill="#d5878a" stroke="#222" stroke-width="1" />
<line x1="575.7" y1="551.38" x2="578.9" y2="551.38" stroke="#111" stroke-width="0.8" />
<line x1="577.3" y1="549.77" x2="577.3" y2="552.98" stroke="#111" stroke-width="0.8" />
<line x1="577.3" y1="597.2" x2="577.3" y2="599.4" stroke="#222" stroke-width="1.1" />
<line x1="559.3" y1="533.8" x2="575.8" y2="533.8" stroke="#222" stroke-width="1.1" />
<text x="567.55" y="534.5" font-size="8" text-anchor="middle" >****</text>
<text x="558.9" y="609.69" font-size="7.2" text-anchor="middle" >HPV<tspan font-size="4.9" dy="-2.88">-</tspan></text>
<text x="578.1" y="609.69" font-size="7.2" text-anchor="middle" >HPV<tspan font-size="4.9" dy="-2.88">+</tspan></text>
<text x="556.1" y="618.36" font-size="7.1" text-anchor="middle" >(n=52)</text>
<text x="578.1" y="618.36" font-size="7.1" text-anchor="middle" >(n=33)</text>
<text transform="translate(530.8,561.4) rotate(-90)" x="0" y="2.88" font-size="8" text-anchor="middle" >IHC score</text>
<rect x="600.1" y="522.3" width="59.8" height="47.5" fill="#000" filter="url(#tJ1)"/>
<clipPath id="cltJ1"><rect x="600.1" y="522.3" width="59.8" height="47.5"/></clipPath><g clip-path="url(#cltJ1)">
<ellipse cx="632.99" cy="538.92" rx="14.95" ry="14.25" fill="#c4a88c" filter="url(#spB2)" opacity="0.6"/>
<ellipse cx="618.04" cy="555.55" rx="14.95" ry="9.5" fill="#c4a88c" filter="url(#spB2)" opacity="0.5"/>
</g>
<rect x="602.4" y="564.8" width="9.5" height="2.2" fill="#000" />
<text x="657.9" y="567.04" font-size="7.6" text-anchor="end" >HPV<tspan font-size="5.17" dy="-3.04">-</tspan></text>
<rect x="599.6" y="572.2" width="60.3" height="47.3" fill="#000" filter="url(#tJ2)"/>
<clipPath id="cltJ2"><rect x="599.6" y="572.2" width="60.3" height="47.3"/></clipPath><g clip-path="url(#cltJ2)">
<ellipse cx="626.74" cy="588.75" rx="27.13" ry="14.19" fill="#bc9c7c" filter="url(#spB)" opacity="0.7"/>
</g>
<rect x="601.9" y="614.5" width="9.5" height="2.2" fill="#000" />
<text x="657.9" y="616.74" font-size="7.6" text-anchor="end" >HPV<tspan font-size="5.17" dy="-3.04">+</tspan></text>
<text x="5.1" y="637.63" font-size="12.3" font-weight="bold" >K</text>
<text x="68" y="636.57" font-size="8.8" text-anchor="middle" >IgA IHC score</text>
<line x1="13.1" y1="651.8" x2="13.1" y2="722.3" stroke="#222" stroke-width="1.1" />
<line x1="13.1" y1="722.3" x2="56.2" y2="722.3" stroke="#222" stroke-width="1.1" />
<line x1="10.3" y1="722.3" x2="13.1" y2="722.3" stroke="#222" stroke-width="1.1" />
<text x="9.3" y="725" font-size="7.5" text-anchor="end" >0</text>
<line x1="10.3" y1="708.3" x2="13.1" y2="708.3" stroke="#222" stroke-width="1.1" />
<text x="9.3" y="711" font-size="7.5" text-anchor="end" >1</text>
<line x1="10.3" y1="694.3" x2="13.1" y2="694.3" stroke="#222" stroke-width="1.1" />
<text x="9.3" y="697" font-size="7.5" text-anchor="end" >2</text>
<line x1="10.3" y1="680.3" x2="13.1" y2="680.3" stroke="#222" stroke-width="1.1" />
<text x="9.3" y="683" font-size="7.5" text-anchor="end" >3</text>
<line x1="10.3" y1="666.3" x2="13.1" y2="666.3" stroke="#222" stroke-width="1.1" />
<text x="9.3" y="669" font-size="7.5" text-anchor="end" >4</text>
<line x1="10.3" y1="652.3" x2="13.1" y2="652.3" stroke="#222" stroke-width="1.1" />
<text x="9.3" y="655" font-size="7.5" text-anchor="end" >5</text>
<line x1="29.2" y1="689.4" x2="29.2" y2="694.3" stroke="#222" stroke-width="1.1" />
<line x1="26.2" y1="689.4" x2="32.2" y2="689.4" stroke="#222" stroke-width="1.1" />
<line x1="29.2" y1="708.3" x2="29.2" y2="722.3" stroke="#222" stroke-width="1.1" />
<line x1="26.2" y1="722.3" x2="32.2" y2="722.3" stroke="#222" stroke-width="1.1" />
<rect x="21.3" y="694.3" width="15.8" height="14" fill="#f5c9a2" stroke="#222" stroke-width="1" />
<line x1="27.6" y1="703.4" x2="30.8" y2="703.4" stroke="#111" stroke-width="0.8" />
<line x1="29.2" y1="701.8" x2="29.2" y2="705" stroke="#111" stroke-width="0.8" />
<line x1="29.2" y1="722.3" x2="29.2" y2="724.5" stroke="#222" stroke-width="1.1" />
<line x1="48" y1="680.3" x2="48" y2="708.3" stroke="#222" stroke-width="1.1" />
<line x1="45" y1="708.3" x2="51" y2="708.3" stroke="#222" stroke-width="1.1" />
<rect x="42.3" y="666.3" width="11.4" height="14" fill="#d5878a" stroke="#222" stroke-width="1" />
<line x1="46.4" y1="670.5" x2="49.6" y2="670.5" stroke="#111" stroke-width="0.8" />
<line x1="48" y1="668.9" x2="48" y2="672.1" stroke="#111" stroke-width="0.8" />
<line x1="48" y1="722.3" x2="48" y2="724.5" stroke="#222" stroke-width="1.1" />
<line x1="31" y1="663.6" x2="47.6" y2="663.6" stroke="#222" stroke-width="1.1" />
<text x="39.3" y="664.3" font-size="8" text-anchor="middle" >****</text>
<text x="29.8" y="734.69" font-size="7.2" text-anchor="middle" >HPV<tspan font-size="4.9" dy="-2.88">-</tspan></text>
<text x="48.7" y="734.69" font-size="7.2" text-anchor="middle" >HPV<tspan font-size="4.9" dy="-2.88">+</tspan></text>
<text x="27" y="743.36" font-size="7.1" text-anchor="middle" >(n=52)</text>
<text x="48.7" y="743.36" font-size="7.1" text-anchor="middle" >(n=33)</text>
<text transform="translate(2.6,686.5) rotate(-90)" x="0" y="2.88" font-size="8" text-anchor="middle" >IHC score</text>
<circle cx="26.6" cy="680.4" r="1.2" fill="none" stroke="#f0b080" stroke-width="0.7" />
<circle cx="30.8" cy="680.4" r="1.2" fill="none" stroke="#f0b080" stroke-width="0.7" />
<rect x="69.1" y="641" width="66.6" height="52.2" fill="#000" filter="url(#tK1)"/>
<clipPath id="cltK1"><rect x="69.1" y="641" width="66.6" height="52.2"/></clipPath><g clip-path="url(#cltK1)">
<ellipse cx="115.72" cy="669.71" rx="11.99" ry="15.66" fill="#8a80b8" filter="url(#spB)" opacity="0.7"/>
<ellipse cx="125.71" cy="656.66" rx="13.32" ry="23.49" fill="#a06a48" filter="url(#spB2)" opacity="0.8"/>
</g>
<rect x="71.4" y="688.2" width="9.5" height="2.2" fill="#000" />
<text x="133.7" y="690.44" font-size="7.6" text-anchor="end" >HPV<tspan font-size="5.17" dy="-3.04">-</tspan></text>
<rect x="69.1" y="696.2" width="66.6" height="52.6" fill="#000" filter="url(#tK2)"/>
<clipPath id="cltK2"><rect x="69.1" y="696.2" width="66.6" height="52.6"/></clipPath><g clip-path="url(#cltK2)">
<ellipse cx="82.42" cy="738.28" rx="23.31" ry="15.78" fill="#8a5030" filter="url(#spB)" opacity="0.9"/>
<ellipse cx="115.72" cy="706.72" rx="13.32" ry="6.31" fill="#8a5030" filter="url(#spB)" opacity="0.9"/>
</g>
<rect x="71.4" y="743.8" width="9.5" height="2.2" fill="#000" />
<text x="133.7" y="746.04" font-size="7.6" text-anchor="end" >HPV<tspan font-size="5.17" dy="-3.04">+</tspan></text>
<text x="168.2" y="637.93" font-size="12.3" font-weight="bold" >L</text>
<text x="226.9" y="643.93" font-size="8.7" text-anchor="middle" >IgG IHC score</text>
<line x1="178.4" y1="658.95" x2="178.4" y2="729.7" stroke="#222" stroke-width="1.1" />
<line x1="178.4" y1="729.7" x2="219.3" y2="729.7" stroke="#222" stroke-width="1.1" />
<line x1="175.6" y1="729.7" x2="178.4" y2="729.7" stroke="#222" stroke-width="1.1" />
<text x="174.6" y="732.4" font-size="7.5" text-anchor="end" >0</text>
<line x1="175.6" y1="715.65" x2="178.4" y2="715.65" stroke="#222" stroke-width="1.1" />
<text x="174.6" y="718.35" font-size="7.5" text-anchor="end" >1</text>
<line x1="175.6" y1="701.6" x2="178.4" y2="701.6" stroke="#222" stroke-width="1.1" />
<text x="174.6" y="704.3" font-size="7.5" text-anchor="end" >2</text>
<line x1="175.6" y1="687.55" x2="178.4" y2="687.55" stroke="#222" stroke-width="1.1" />
<text x="174.6" y="690.25" font-size="7.5" text-anchor="end" >3</text>
<line x1="175.6" y1="673.5" x2="178.4" y2="673.5" stroke="#222" stroke-width="1.1" />
<text x="174.6" y="676.2" font-size="7.5" text-anchor="end" >4</text>
<line x1="175.6" y1="659.45" x2="178.4" y2="659.45" stroke="#222" stroke-width="1.1" />
<text x="174.6" y="662.15" font-size="7.5" text-anchor="end" >5</text>
<line x1="190.9" y1="673.5" x2="190.9" y2="687.55" stroke="#222" stroke-width="1.1" />
<line x1="187.9" y1="673.5" x2="193.9" y2="673.5" stroke="#222" stroke-width="1.1" />
<line x1="190.9" y1="701.6" x2="190.9" y2="715.65" stroke="#222" stroke-width="1.1" />
<line x1="187.9" y1="715.65" x2="193.9" y2="715.65" stroke="#222" stroke-width="1.1" />
<rect x="185.05" y="687.55" width="11.7" height="14.05" fill="#f5c9a2" stroke="#222" stroke-width="1" />
<line x1="189.3" y1="693.87" x2="192.5" y2="693.87" stroke="#111" stroke-width="0.8" />
<line x1="190.9" y1="692.27" x2="190.9" y2="695.47" stroke="#111" stroke-width="0.8" />
<line x1="190.9" y1="729.7" x2="190.9" y2="731.9" stroke="#222" stroke-width="1.1" />
<line x1="209.5" y1="673.5" x2="209.5" y2="687.55" stroke="#222" stroke-width="1.1" />
<line x1="206.5" y1="673.5" x2="212.5" y2="673.5" stroke="#222" stroke-width="1.1" />
<line x1="209.5" y1="701.6" x2="209.5" y2="715.65" stroke="#222" stroke-width="1.1" />
<line x1="206.5" y1="715.65" x2="212.5" y2="715.65" stroke="#222" stroke-width="1.1" />
<rect x="203.45" y="687.55" width="12.1" height="14.05" fill="#d5878a" stroke="#222" stroke-width="1" />
<line x1="207.9" y1="691.77" x2="211.1" y2="691.77" stroke="#111" stroke-width="0.8" />
<line x1="209.5" y1="690.17" x2="209.5" y2="693.37" stroke="#111" stroke-width="0.8" />
<line x1="209.5" y1="729.7" x2="209.5" y2="731.9" stroke="#222" stroke-width="1.1" />
<line x1="192.3" y1="669.5" x2="208.4" y2="669.5" stroke="#222" stroke-width="1.1" />
<text x="200.35" y="665.74" font-size="7.6" text-anchor="middle" >ns</text>
<text x="191.4" y="741.39" font-size="7.2" text-anchor="middle" >HPV<tspan font-size="4.9" dy="-2.88">-</tspan></text>
<text x="210.3" y="741.39" font-size="7.2" text-anchor="middle" >HPV<tspan font-size="4.9" dy="-2.88">+</tspan></text>
<text x="188.6" y="751.36" font-size="7.1" text-anchor="middle" >(n=52)</text>
<text x="210.3" y="751.36" font-size="7.1" text-anchor="middle" >(n=33)</text>
<text transform="translate(164.8,694.8) rotate(-90)" x="0" y="2.88" font-size="8" text-anchor="middle" >IHC score</text>
<rect x="227" y="648.2" width="66.9" height="52.5" fill="#000" filter="url(#tL1)"/>
<clipPath id="cltL1"><rect x="227" y="648.2" width="66.9" height="52.5"/></clipPath><g clip-path="url(#cltL1)">
<ellipse cx="267.14" cy="669.2" rx="20.07" ry="18.38" fill="#8a5030" filter="url(#spB)" opacity="0.8"/>
<ellipse cx="237.03" cy="656.08" rx="13.38" ry="10.5" fill="#8a5030" filter="url(#spB)" opacity="0.8"/>
</g>
<rect x="229.3" y="695.7" width="9.5" height="2.2" fill="#000" />
<text x="291.9" y="697.94" font-size="7.6" text-anchor="end" >HPV<tspan font-size="5.17" dy="-3.04">-</tspan></text>
<rect x="227" y="703.4" width="66.9" height="52.5" fill="#000" filter="url(#tL2)"/>
<clipPath id="cltL2"><rect x="227" y="703.4" width="66.9" height="52.5"/></clipPath><g clip-path="url(#cltL2)">
<ellipse cx="277.18" cy="716.52" rx="20.07" ry="15.75" fill="#8a5030" filter="url(#spB)" opacity="0.8"/>
</g>
<rect x="229.3" y="750.9" width="9.5" height="2.2" fill="#000" />
<text x="291.9" y="753.14" font-size="7.6" text-anchor="end" >HPV<tspan font-size="5.17" dy="-3.04">+</tspan></text>
<text x="347.4" y="637.43" font-size="12.3" font-weight="bold" >M</text>
<text x="417.4" y="647.69" font-size="8.85" text-anchor="middle" >ELISA (Tumor)</text>
<line x1="360.7" y1="661.1" x2="360.7" y2="732" stroke="#222" stroke-width="1.1" />
<line x1="360.7" y1="732" x2="405.1" y2="732" stroke="#222" stroke-width="1.1" />
<line x1="358.5" y1="732" x2="360.7" y2="732" stroke="#222" stroke-width="1.1" />
<text x="357.9" y="734.66" font-size="7.4" text-anchor="end" >0</text>
<line x1="358.5" y1="708.5" x2="360.7" y2="708.5" stroke="#222" stroke-width="1.1" />
<text x="357.9" y="711.16" font-size="7.4" text-anchor="end" >5</text>
<line x1="358.5" y1="685" x2="360.7" y2="685" stroke="#222" stroke-width="1.1" />
<text x="357.9" y="687.66" font-size="7.4" text-anchor="end" >10</text>
<line x1="358.5" y1="661.5" x2="360.7" y2="661.5" stroke="#222" stroke-width="1.1" />
<text x="357.9" y="664.16" font-size="7.4" text-anchor="end" >15</text>
<rect x="367.4" y="695.81" width="12.3" height="36.19" fill="#f5c9a2" stroke="#222" stroke-width="1" />
<line x1="373.55" y1="698.63" x2="373.55" y2="692.99" stroke="#222" stroke-width="1.1" />
<line x1="371.05" y1="692.99" x2="376.05" y2="692.99" stroke="#222" stroke-width="1.1" />
<line x1="371.05" y1="698.63" x2="376.05" y2="698.63" stroke="#222" stroke-width="1.1" />
<circle cx="369.55" cy="692.05" r="2.2" fill="#f5c9a2" stroke="#222" stroke-width="0.8" />
<circle cx="372.05" cy="694.87" r="2.2" fill="#f5c9a2" stroke="#222" stroke-width="0.8" />
<circle cx="376.05" cy="692.52" r="2.2" fill="#f5c9a2" stroke="#222" stroke-width="0.8" />
<circle cx="378.05" cy="696.75" r="2.2" fill="#f5c9a2" stroke="#222" stroke-width="0.8" />
<circle cx="373.55" cy="688.29" r="2.2" fill="#f5c9a2" stroke="#222" stroke-width="0.8" />
<circle cx="370.05" cy="700.98" r="2.2" fill="#f5c9a2" stroke="#222" stroke-width="0.8" />
<circle cx="375.05" cy="704.74" r="2.2" fill="#f5c9a2" stroke="#222" stroke-width="0.8" />
<line x1="373.55" y1="732" x2="373.55" y2="734.2" stroke="#222" stroke-width="1.1" />
<rect x="386.2" y="687.82" width="12.3" height="44.18" fill="#d5878a" stroke="#222" stroke-width="1" />
<line x1="392.35" y1="690.17" x2="392.35" y2="685.47" stroke="#222" stroke-width="1.1" />
<line x1="389.85" y1="685.47" x2="394.85" y2="685.47" stroke="#222" stroke-width="1.1" />
<line x1="389.85" y1="690.17" x2="394.85" y2="690.17" stroke="#222" stroke-width="1.1" />
<circle cx="388.35" cy="687.82" r="2.2" fill="#e0a0a0" stroke="#222" stroke-width="0.8" />
<circle cx="390.85" cy="685" r="2.2" fill="#e0a0a0" stroke="#222" stroke-width="0.8" />
<circle cx="393.85" cy="679.36" r="2.2" fill="#e0a0a0" stroke="#222" stroke-width="0.8" />
<circle cx="396.85" cy="687.82" r="2.2" fill="#e0a0a0" stroke="#222" stroke-width="0.8" />
<circle cx="391.35" cy="685.47" r="2.2" fill="#e0a0a0" stroke="#222" stroke-width="0.8" />
<circle cx="394.85" cy="700.04" r="2.2" fill="#e0a0a0" stroke="#222" stroke-width="0.8" />
<line x1="392.35" y1="732" x2="392.35" y2="734.2" stroke="#222" stroke-width="1.1" />
<line x1="371.9" y1="673.1" x2="392.3" y2="673.1" stroke="#222" stroke-width="1.1" />
<text x="382.1" y="671.9" font-size="8" text-anchor="middle" >*</text>
<text x="381.1" y="660.03" font-size="7.3" text-anchor="middle" >IgA</text>
<text x="373.3" y="743.16" font-size="7.1" text-anchor="middle" >HPV<tspan font-size="4.83" dy="-2.84">-</tspan></text>
<text x="393" y="743.16" font-size="7.1" text-anchor="middle" >HPV<tspan font-size="4.83" dy="-2.84">+</tspan></text>
<text x="371.7" y="751.39" font-size="7.2" text-anchor="middle" >(n=7)</text>
<text x="393.4" y="751.39" font-size="7.2" text-anchor="middle" >(n=6)</text>
<text transform="translate(346.4,695.6) rotate(-90)" x="0" y="2.66" font-size="7.4" text-anchor="middle" >Tumor IgA (mg/mg)</text>
<line x1="436.5" y1="657.8" x2="436.5" y2="731.4" stroke="#222" stroke-width="1.1" />
<line x1="436.5" y1="731.4" x2="482.3" y2="731.4" stroke="#222" stroke-width="1.1" />
<line x1="434.3" y1="731.4" x2="436.5" y2="731.4" stroke="#222" stroke-width="1.1" />
<text x="433.7" y="734.06" font-size="7.4" text-anchor="end" >0</text>
<line x1="434.3" y1="713.1" x2="436.5" y2="713.1" stroke="#222" stroke-width="1.1" />
<text x="433.7" y="715.76" font-size="7.4" text-anchor="end" >10</text>
<line x1="434.3" y1="694.8" x2="436.5" y2="694.8" stroke="#222" stroke-width="1.1" />
<text x="433.7" y="697.46" font-size="7.4" text-anchor="end" >20</text>
<line x1="434.3" y1="676.5" x2="436.5" y2="676.5" stroke="#222" stroke-width="1.1" />
<text x="433.7" y="679.16" font-size="7.4" text-anchor="end" >30</text>
<line x1="434.3" y1="658.2" x2="436.5" y2="658.2" stroke="#222" stroke-width="1.1" />
<text x="433.7" y="660.86" font-size="7.4" text-anchor="end" >40</text>
<rect x="444.1" y="697" width="12.7" height="34.4" fill="#f5c9a2" stroke="#222" stroke-width="1" />
<line x1="450.45" y1="699.92" x2="450.45" y2="694.07" stroke="#222" stroke-width="1.1" />
<line x1="447.95" y1="694.07" x2="452.95" y2="694.07" stroke="#222" stroke-width="1.1" />
<line x1="447.95" y1="699.92" x2="452.95" y2="699.92" stroke="#222" stroke-width="1.1" />
<circle cx="446.45" cy="697.54" r="2.2" fill="#f5c9a2" stroke="#222" stroke-width="0.8" />
<circle cx="448.95" cy="699.38" r="2.2" fill="#f5c9a2" stroke="#222" stroke-width="0.8" />
<circle cx="452.95" cy="696.63" r="2.2" fill="#f5c9a2" stroke="#222" stroke-width="0.8" />
<circle cx="454.95" cy="698.46" r="2.2" fill="#f5c9a2" stroke="#222" stroke-width="0.8" />
<circle cx="450.45" cy="684.74" r="2.2" fill="#f5c9a2" stroke="#222" stroke-width="0.8" />
<circle cx="447.45" cy="699.92" r="2.2" fill="#f5c9a2" stroke="#222" stroke-width="0.8" />
<circle cx="451.95" cy="700.29" r="2.2" fill="#f5c9a2" stroke="#222" stroke-width="0.8" />
<line x1="450.45" y1="731.4" x2="450.45" y2="733.6" stroke="#222" stroke-width="1.1" />
<rect x="463.3" y="693.7" width="12.3" height="37.7" fill="#d5878a" stroke="#222" stroke-width="1" />
<line x1="469.45" y1="695.9" x2="469.45" y2="691.51" stroke="#222" stroke-width="1.1" />
<line x1="466.95" y1="691.51" x2="471.95" y2="691.51" stroke="#222" stroke-width="1.1" />
<line x1="466.95" y1="695.9" x2="471.95" y2="695.9" stroke="#222" stroke-width="1.1" />
<circle cx="465.45" cy="691.14" r="2.2" fill="#e0a0a0" stroke="#222" stroke-width="0.8" />
<circle cx="468.45" cy="695.71" r="2.2" fill="#e0a0a0" stroke="#222" stroke-width="0.8" />
<circle cx="470.95" cy="693.88" r="2.2" fill="#e0a0a0" stroke="#222" stroke-width="0.8" />
<circle cx="473.95" cy="688.39" r="2.2" fill="#e0a0a0" stroke="#222" stroke-width="0.8" />
<circle cx="465.45" cy="699.38" r="2.2" fill="#e0a0a0" stroke="#222" stroke-width="0.8" />
<circle cx="473.45" cy="697.54" r="2.2" fill="#e0a0a0" stroke="#222" stroke-width="0.8" />
<line x1="469.45" y1="731.4" x2="469.45" y2="733.6" stroke="#222" stroke-width="1.1" />
<line x1="446.6" y1="677.2" x2="470.1" y2="677.2" stroke="#222" stroke-width="1.1" />
<text x="458.35" y="675.12" font-size="7.4" text-anchor="middle" >ns</text>
<text x="457.1" y="662.93" font-size="7.3" text-anchor="middle" >IgG</text>
<text x="450.2" y="742.16" font-size="7.1" text-anchor="middle" >HPV<tspan font-size="4.83" dy="-2.84">-</tspan></text>
<text x="469" y="742.16" font-size="7.1" text-anchor="middle" >HPV<tspan font-size="4.83" dy="-2.84">+</tspan></text>
<text x="448.6" y="751.39" font-size="7.2" text-anchor="middle" >(n=7)</text>
<text x="469.4" y="751.39" font-size="7.2" text-anchor="middle" >(n=6)</text>
<text transform="translate(418.2,694.6) rotate(-90)" x="0" y="2.66" font-size="7.4" text-anchor="middle" >Tumor IgG (mg/mg)</text>
<text x="517.7" y="637.43" font-size="12.3" font-weight="bold" >N</text>
<text x="593.9" y="647.97" font-size="8.8" text-anchor="middle" >ELISA (Plasma)</text>
<line x1="535.7" y1="657.76" x2="535.7" y2="730.1" stroke="#222" stroke-width="1.1" />
<line x1="535.7" y1="730.1" x2="580.2" y2="730.1" stroke="#222" stroke-width="1.1" />
<line x1="533.5" y1="730.1" x2="535.7" y2="730.1" stroke="#222" stroke-width="1.1" />
<text x="532.9" y="732.76" font-size="7.4" text-anchor="end" >0</text>
<line x1="533.5" y1="706.12" x2="535.7" y2="706.12" stroke="#222" stroke-width="1.1" />
<text x="532.9" y="708.78" font-size="7.4" text-anchor="end" >2</text>
<line x1="533.5" y1="682.14" x2="535.7" y2="682.14" stroke="#222" stroke-width="1.1" />
<text x="532.9" y="684.8" font-size="7.4" text-anchor="end" >4</text>
<line x1="533.5" y1="658.16" x2="535.7" y2="658.16" stroke="#222" stroke-width="1.1" />
<text x="532.9" y="660.82" font-size="7.4" text-anchor="end" >6</text>
<rect x="543.6" y="698.93" width="12.5" height="31.17" fill="#f5c9a2" stroke="#222" stroke-width="1" />
<line x1="549.85" y1="702.52" x2="549.85" y2="695.33" stroke="#222" stroke-width="1.1" />
<line x1="547.35" y1="695.33" x2="552.35" y2="695.33" stroke="#222" stroke-width="1.1" />
<line x1="547.35" y1="702.52" x2="552.35" y2="702.52" stroke="#222" stroke-width="1.1" />
<circle cx="545.85" cy="691.73" r="2.2" fill="#f5c9a2" stroke="#222" stroke-width="0.8" />
<circle cx="548.35" cy="695.33" r="2.2" fill="#f5c9a2" stroke="#222" stroke-width="0.8" />
<circle cx="552.35" cy="690.53" r="2.2" fill="#f5c9a2" stroke="#222" stroke-width="0.8" />
<circle cx="554.35" cy="688.13" r="2.2" fill="#f5c9a2" stroke="#222" stroke-width="0.8" />
<circle cx="549.85" cy="701.32" r="2.2" fill="#f5c9a2" stroke="#222" stroke-width="0.8" />
<circle cx="546.85" cy="706.12" r="2.2" fill="#f5c9a2" stroke="#222" stroke-width="0.8" />
<circle cx="549.85" cy="714.51" r="2.2" fill="#f5c9a2" stroke="#222" stroke-width="0.8" />
<line x1="549.85" y1="730.1" x2="549.85" y2="732.3" stroke="#222" stroke-width="1.1" />
<rect x="562.1" y="698.93" width="12.8" height="31.17" fill="#d5878a" stroke="#222" stroke-width="1" />
<line x1="568.5" y1="704.92" x2="568.5" y2="692.93" stroke="#222" stroke-width="1.1" />
<line x1="566" y1="692.93" x2="571" y2="692.93" stroke="#222" stroke-width="1.1" />
<line x1="566" y1="704.92" x2="571" y2="704.92" stroke="#222" stroke-width="1.1" />
<circle cx="568.5" cy="682.14" r="2.2" fill="#e0a0a0" stroke="#222" stroke-width="0.8" />
<circle cx="568.5" cy="688.13" r="2.2" fill="#e0a0a0" stroke="#222" stroke-width="0.8" />
<circle cx="564.5" cy="698.93" r="2.2" fill="#e0a0a0" stroke="#222" stroke-width="0.8" />
<circle cx="572.5" cy="695.33" r="2.2" fill="#e0a0a0" stroke="#222" stroke-width="0.8" />
<circle cx="566.5" cy="708.52" r="2.2" fill="#e0a0a0" stroke="#222" stroke-width="0.8" />
<circle cx="570" cy="719.31" r="2.2" fill="#e0a0a0" stroke="#222" stroke-width="0.8" />
<line x1="568.5" y1="730.1" x2="568.5" y2="732.3" stroke="#222" stroke-width="1.1" />
<line x1="547.7" y1="676.1" x2="569.4" y2="676.1" stroke="#222" stroke-width="1.1" />
<text x="558.55" y="674.02" font-size="7.4" text-anchor="middle" >ns</text>
<text x="558" y="663.63" font-size="7.3" text-anchor="middle" >IgA</text>
<text x="548.9" y="741.06" font-size="7.1" text-anchor="middle" >HPV<tspan font-size="4.83" dy="-2.84">-</tspan></text>
<text x="568.2" y="741.06" font-size="7.1" text-anchor="middle" >HPV<tspan font-size="4.83" dy="-2.84">+</tspan></text>
<text x="547.3" y="748.29" font-size="7.2" text-anchor="middle" >(n=7)</text>
<text x="568.6" y="748.29" font-size="7.2" text-anchor="middle" >(n=6)</text>
<text transform="translate(523.6,693.5) rotate(-90)" x="0" y="2.66" font-size="7.4" text-anchor="middle" >Plasma IgA (mg/ml)</text>
<line x1="604.3" y1="659.8" x2="604.3" y2="729.1" stroke="#222" stroke-width="1.1" />
<line x1="604.3" y1="729.1" x2="647.6" y2="729.1" stroke="#222" stroke-width="1.1" />
<line x1="602.1" y1="729.1" x2="604.3" y2="729.1" stroke="#222" stroke-width="1.1" />
<text x="601.5" y="731.76" font-size="7.4" text-anchor="end" >0</text>
<line x1="602.1" y1="711.88" x2="604.3" y2="711.88" stroke="#222" stroke-width="1.1" />
<text x="601.5" y="714.54" font-size="7.4" text-anchor="end" >5</text>
<line x1="602.1" y1="694.65" x2="604.3" y2="694.65" stroke="#222" stroke-width="1.1" />
<text x="601.5" y="697.31" font-size="7.4" text-anchor="end" >10</text>
<line x1="602.1" y1="677.43" x2="604.3" y2="677.43" stroke="#222" stroke-width="1.1" />
<text x="601.5" y="680.09" font-size="7.4" text-anchor="end" >15</text>
<line x1="602.1" y1="660.2" x2="604.3" y2="660.2" stroke="#222" stroke-width="1.1" />
<text x="601.5" y="662.86" font-size="7.4" text-anchor="end" >20</text>
<rect x="611.5" y="694.65" width="12.5" height="34.45" fill="#f5c9a2" stroke="#222" stroke-width="1" />
<line x1="617.75" y1="699.13" x2="617.75" y2="690.17" stroke="#222" stroke-width="1.1" />
<line x1="615.25" y1="690.17" x2="620.25" y2="690.17" stroke="#222" stroke-width="1.1" />
<line x1="615.25" y1="699.13" x2="620.25" y2="699.13" stroke="#222" stroke-width="1.1" />
<circle cx="613.75" cy="674.67" r="2.2" fill="#f5c9a2" stroke="#222" stroke-width="0.8" />
<circle cx="616.25" cy="689.48" r="2.2" fill="#f5c9a2" stroke="#222" stroke-width="0.8" />
<circle cx="620.25" cy="686.04" r="2.2" fill="#f5c9a2" stroke="#222" stroke-width="0.8" />
<circle cx="622.25" cy="696.37" r="2.2" fill="#f5c9a2" stroke="#222" stroke-width="0.8" />
<circle cx="617.75" cy="699.82" r="2.2" fill="#f5c9a2" stroke="#222" stroke-width="0.8" />
<circle cx="614.75" cy="703.26" r="2.2" fill="#f5c9a2" stroke="#222" stroke-width="0.8" />
<circle cx="620.75" cy="706.71" r="2.2" fill="#f5c9a2" stroke="#222" stroke-width="0.8" />
<line x1="617.75" y1="729.1" x2="617.75" y2="731.3" stroke="#222" stroke-width="1.1" />
<rect x="630.3" y="696.37" width="12" height="32.73" fill="#d5878a" stroke="#222" stroke-width="1" />
<line x1="636.3" y1="700.51" x2="636.3" y2="692.24" stroke="#222" stroke-width="1.1" />
<line x1="633.8" y1="692.24" x2="638.8" y2="692.24" stroke="#222" stroke-width="1.1" />
<line x1="633.8" y1="700.51" x2="638.8" y2="700.51" stroke="#222" stroke-width="1.1" />
<circle cx="636.3" cy="680.87" r="2.2" fill="#e0a0a0" stroke="#222" stroke-width="0.8" />
<circle cx="633.3" cy="692.93" r="2.2" fill="#e0a0a0" stroke="#222" stroke-width="0.8" />
<circle cx="639.3" cy="692.93" r="2.2" fill="#e0a0a0" stroke="#222" stroke-width="0.8" />
<circle cx="640.3" cy="699.82" r="2.2" fill="#e0a0a0" stroke="#222" stroke-width="0.8" />
<circle cx="634.8" cy="701.54" r="2.2" fill="#e0a0a0" stroke="#222" stroke-width="0.8" />
<circle cx="636.3" cy="711.88" r="2.2" fill="#e0a0a0" stroke="#222" stroke-width="0.8" />
<line x1="636.3" y1="729.1" x2="636.3" y2="731.3" stroke="#222" stroke-width="1.1" />
<line x1="616.3" y1="670.1" x2="636.8" y2="670.1" stroke="#222" stroke-width="1.1" />
<text x="626.55" y="668.02" font-size="7.4" text-anchor="middle" >ns</text>
<text x="623.6" y="660.63" font-size="7.3" text-anchor="middle" >IgG</text>
<text x="617.5" y="741.06" font-size="7.1" text-anchor="middle" >HPV<tspan font-size="4.83" dy="-2.84">-</tspan></text>
<text x="636.1" y="741.06" font-size="7.1" text-anchor="middle" >HPV<tspan font-size="4.83" dy="-2.84">+</tspan></text>
<text x="615.9" y="748.29" font-size="7.2" text-anchor="middle" >(n=7)</text>
<text x="636.5" y="748.29" font-size="7.2" text-anchor="middle" >(n=6)</text>
<text transform="translate(589.8,692.3) rotate(-90)" x="0" y="2.66" font-size="7.4" text-anchor="middle" >Plasma IgG (mg/ml)</text>
<text x="19.3" y="780.43" font-size="12.3" font-weight="bold" >O</text>
<text x="97" y="791.17" font-size="8.8" text-anchor="middle" >IgA IHC score</text>
<line x1="48.6" y1="796.18" x2="48.6" y2="884.4" stroke="#222" stroke-width="1" />
<line x1="48.6" y1="884.4" x2="136.9" y2="884.4" stroke="#222" stroke-width="1" />
<line x1="46" y1="884.4" x2="48.6" y2="884.4" stroke="#222" stroke-width="1" />
<text x="44" y="887.71" font-size="9.2" text-anchor="end" >0</text>
<line x1="46" y1="864.35" x2="48.6" y2="864.35" stroke="#222" stroke-width="1" />
<text x="44" y="867.66" font-size="9.2" text-anchor="end" >25</text>
<line x1="46" y1="844.3" x2="48.6" y2="844.3" stroke="#222" stroke-width="1" />
<text x="44" y="847.61" font-size="9.2" text-anchor="end" >50</text>
<line x1="46" y1="824.25" x2="48.6" y2="824.25" stroke="#222" stroke-width="1" />
<text x="44" y="827.56" font-size="9.2" text-anchor="end" >75</text>
<line x1="46" y1="804.2" x2="48.6" y2="804.2" stroke="#222" stroke-width="1" />
<text x="44" y="807.51" font-size="9.2" text-anchor="end" >100</text>
<line x1="48.6" y1="884.4" x2="48.6" y2="886.7" stroke="#222" stroke-width="1" />
<text x="48.6" y="899.37" font-size="8.8" text-anchor="middle" >0</text>
<line x1="78.03" y1="884.4" x2="78.03" y2="886.7" stroke="#222" stroke-width="1" />
<text x="78.03" y="899.37" font-size="8.8" text-anchor="middle" >50</text>
<line x1="107.47" y1="884.4" x2="107.47" y2="886.7" stroke="#222" stroke-width="1" />
<text x="107.47" y="899.37" font-size="8.8" text-anchor="middle" >100</text>
<line x1="136.9" y1="884.4" x2="136.9" y2="886.7" stroke="#222" stroke-width="1" />
<text x="136.9" y="899.37" font-size="8.8" text-anchor="middle" >150</text>
<text x="96.25" y="913.74" font-size="9" text-anchor="middle" >Months</text>
<text transform="translate(23.6,840) rotate(-90)" x="0" y="3.24" font-size="9" text-anchor="middle" >Survival (%)</text>
<path d="M48.6,804.2 L94.52,804.2 L94.52,813.02 L123.95,813.02 L123.95,813.02" fill="none" stroke="#e8392a" stroke-width="1.15" />
<line x1="54.49" y1="802.2" x2="54.49" y2="804.2" stroke="#e8392a" stroke-width="0.8" />
<line x1="55.66" y1="802.2" x2="55.66" y2="804.2" stroke="#e8392a" stroke-width="0.8" />
<line x1="57.43" y1="802.2" x2="57.43" y2="804.2" stroke="#e8392a" stroke-width="0.8" />
<line x1="63.32" y1="802.2" x2="63.32" y2="804.2" stroke="#e8392a" stroke-width="0.8" />
<line x1="70.97" y1="802.2" x2="70.97" y2="804.2" stroke="#e8392a" stroke-width="0.8" />
<line x1="72.15" y1="802.2" x2="72.15" y2="804.2" stroke="#e8392a" stroke-width="0.8" />
<line x1="73.32" y1="802.2" x2="73.32" y2="804.2" stroke="#e8392a" stroke-width="0.8" />
<line x1="80.98" y1="802.2" x2="80.98" y2="804.2" stroke="#e8392a" stroke-width="0.8" />
<line x1="83.92" y1="802.2" x2="83.92" y2="804.2" stroke="#e8392a" stroke-width="0.8" />
<line x1="88.63" y1="802.2" x2="88.63" y2="804.2" stroke="#e8392a" stroke-width="0.8" />
<line x1="98.64" y1="811.02" x2="98.64" y2="813.02" stroke="#e8392a" stroke-width="0.8" />
<line x1="101.58" y1="811.02" x2="101.58" y2="813.02" stroke="#e8392a" stroke-width="0.8" />
<line x1="104.52" y1="811.02" x2="104.52" y2="813.02" stroke="#e8392a" stroke-width="0.8" />
<line x1="123.95" y1="811.02" x2="123.95" y2="813.02" stroke="#e8392a" stroke-width="0.8" />
<path d="M48.6,804.2 L51.54,804.2 L51.54,805.8 L53.31,805.8 L53.31,807.41 L55.08,807.41 L55.08,809.01 L56.25,809.01 L56.25,810.62 L57.43,810.62 L57.43,813.02 L58.61,813.02 L58.61,815.43 L60.37,815.43 L60.37,820.24 L66.26,820.24 L66.26,820.24 L68.03,820.24 L68.03,822.65 L69.79,822.65 L69.79,825.85 L72.15,825.85 L72.15,828.26 L132.78,828.26 L132.78,828.26" fill="none" stroke="#2f5fb8" stroke-width="1.15" />
<line x1="54.49" y1="803.8" x2="54.49" y2="805.8" stroke="#2f5fb8" stroke-width="0.8" />
<line x1="55.66" y1="805.41" x2="55.66" y2="807.41" stroke="#2f5fb8" stroke-width="0.8" />
<line x1="63.32" y1="818.24" x2="63.32" y2="820.24" stroke="#2f5fb8" stroke-width="0.8" />
<line x1="65.08" y1="818.24" x2="65.08" y2="820.24" stroke="#2f5fb8" stroke-width="0.8" />
<line x1="74.5" y1="826.26" x2="74.5" y2="828.26" stroke="#2f5fb8" stroke-width="0.8" />
<line x1="76.86" y1="826.26" x2="76.86" y2="828.26" stroke="#2f5fb8" stroke-width="0.8" />
<line x1="79.21" y1="826.26" x2="79.21" y2="828.26" stroke="#2f5fb8" stroke-width="0.8" />
<line x1="81.57" y1="826.26" x2="81.57" y2="828.26" stroke="#2f5fb8" stroke-width="0.8" />
<line x1="83.92" y1="826.26" x2="83.92" y2="828.26" stroke="#2f5fb8" stroke-width="0.8" />
<line x1="85.69" y1="826.26" x2="85.69" y2="828.26" stroke="#2f5fb8" stroke-width="0.8" />
<line x1="87.45" y1="826.26" x2="87.45" y2="828.26" stroke="#2f5fb8" stroke-width="0.8" />
<line x1="89.81" y1="826.26" x2="89.81" y2="828.26" stroke="#2f5fb8" stroke-width="0.8" />
<line x1="98.64" y1="826.26" x2="98.64" y2="828.26" stroke="#2f5fb8" stroke-width="0.8" />
<line x1="113.35" y1="826.26" x2="113.35" y2="828.26" stroke="#2f5fb8" stroke-width="0.8" />
<line x1="116.3" y1="826.26" x2="116.3" y2="828.26" stroke="#2f5fb8" stroke-width="0.8" />
<line x1="132.78" y1="826.26" x2="132.78" y2="828.26" stroke="#2f5fb8" stroke-width="0.8" />
<line x1="54.7" y1="861.8" x2="67.9" y2="861.8" stroke="#2f5fb8" stroke-width="1.15" />
<line x1="61.3" y1="860.6" x2="61.3" y2="861.8" stroke="#2f5fb8" stroke-width="0.6" />
<line x1="54.7" y1="874.3" x2="67.9" y2="874.3" stroke="#e8392a" stroke-width="1.15" />
<line x1="61.3" y1="873.1" x2="61.3" y2="874.3" stroke="#e8392a" stroke-width="0.6" />
<text x="68.3" y="865" font-size="8.9" >score ≤ 2 (n=57)</text>
<text x="69.6" y="877.5" font-size="8.9" >score ≥3 (n=28)</text>
<line x1="137.5" y1="859.3" x2="137.5" y2="878.8" stroke="#222" stroke-width="0.9" />
<text x="139.7" y="872.6" font-size="8.5" >*</text>
<text x="171.9" y="779.83" font-size="12.3" font-weight="bold" >P</text>
<text x="245.2" y="791.17" font-size="8.8" text-anchor="middle" >IgG IHC score</text>
<line x1="195.5" y1="794.6" x2="195.5" y2="883.7" stroke="#222" stroke-width="1" />
<line x1="195.5" y1="883.7" x2="284.2" y2="883.7" stroke="#222" stroke-width="1" />
<line x1="192.9" y1="883.7" x2="195.5" y2="883.7" stroke="#222" stroke-width="1" />
<text x="190.9" y="887.01" font-size="9.2" text-anchor="end" >0</text>
<line x1="192.9" y1="863.45" x2="195.5" y2="863.45" stroke="#222" stroke-width="1" />
<text x="190.9" y="866.76" font-size="9.2" text-anchor="end" >25</text>
<line x1="192.9" y1="843.2" x2="195.5" y2="843.2" stroke="#222" stroke-width="1" />
<text x="190.9" y="846.51" font-size="9.2" text-anchor="end" >50</text>
<line x1="192.9" y1="822.95" x2="195.5" y2="822.95" stroke="#222" stroke-width="1" />
<text x="190.9" y="826.26" font-size="9.2" text-anchor="end" >75</text>
<line x1="192.9" y1="802.7" x2="195.5" y2="802.7" stroke="#222" stroke-width="1" />
<text x="190.9" y="806.01" font-size="9.2" text-anchor="end" >100</text>
<line x1="195.5" y1="883.7" x2="195.5" y2="886" stroke="#222" stroke-width="1" />
<text x="195.5" y="899.37" font-size="8.8" text-anchor="middle" >0</text>
<line x1="225.07" y1="883.7" x2="225.07" y2="886" stroke="#222" stroke-width="1" />
<text x="225.07" y="899.37" font-size="8.8" text-anchor="middle" >50</text>
<line x1="254.63" y1="883.7" x2="254.63" y2="886" stroke="#222" stroke-width="1" />
<text x="254.63" y="899.37" font-size="8.8" text-anchor="middle" >100</text>
<line x1="284.2" y1="883.7" x2="284.2" y2="886" stroke="#222" stroke-width="1" />
<text x="284.2" y="899.37" font-size="8.8" text-anchor="middle" >150</text>
<text x="243.35" y="913.74" font-size="9" text-anchor="middle" >Months</text>
<text transform="translate(170.5,840) rotate(-90)" x="0" y="3.24" font-size="9" text-anchor="middle" >Survival (%)</text>
<path d="M195.5,802.7 L200.23,802.7 L200.23,805.13 L202.6,805.13 L202.6,806.75 L204.37,806.75 L204.37,809.18 L207.33,809.18 L207.33,811.61 L210.28,811.61 L210.28,813.23 L214.42,813.23 L214.42,814.85 L217.97,814.85 L217.97,818.9 L280.06,818.9 L280.06,818.9" fill="none" stroke="#e8392a" stroke-width="1.15" />
<line x1="198.46" y1="800.7" x2="198.46" y2="802.7" stroke="#e8392a" stroke-width="0.8" />
<line x1="201.41" y1="803.13" x2="201.41" y2="805.13" stroke="#e8392a" stroke-width="0.8" />
<line x1="213.24" y1="811.23" x2="213.24" y2="813.23" stroke="#e8392a" stroke-width="0.8" />
<line x1="219.15" y1="816.9" x2="219.15" y2="818.9" stroke="#e8392a" stroke-width="0.8" />
<line x1="228.02" y1="816.9" x2="228.02" y2="818.9" stroke="#e8392a" stroke-width="0.8" />
<line x1="236.89" y1="816.9" x2="236.89" y2="818.9" stroke="#e8392a" stroke-width="0.8" />
<line x1="242.81" y1="816.9" x2="242.81" y2="818.9" stroke="#e8392a" stroke-width="0.8" />
<line x1="248.72" y1="816.9" x2="248.72" y2="818.9" stroke="#e8392a" stroke-width="0.8" />
<line x1="254.63" y1="816.9" x2="254.63" y2="818.9" stroke="#e8392a" stroke-width="0.8" />
<line x1="260.55" y1="816.9" x2="260.55" y2="818.9" stroke="#e8392a" stroke-width="0.8" />
<line x1="269.42" y1="816.9" x2="269.42" y2="818.9" stroke="#e8392a" stroke-width="0.8" />
<line x1="278.29" y1="816.9" x2="278.29" y2="818.9" stroke="#e8392a" stroke-width="0.8" />
<path d="M195.5,802.7 L201.41,802.7 L201.41,808.37 L206.14,808.37 L206.14,813.23 L216.2,813.23 L216.2,814.85 L217.97,814.85 L217.97,817.28 L241.62,817.28 L241.62,831.05 L263.5,831.05 L263.5,831.05" fill="none" stroke="#2f5fb8" stroke-width="1.15" />
<line x1="210.28" y1="811.23" x2="210.28" y2="813.23" stroke="#2f5fb8" stroke-width="0.8" />
<line x1="220.34" y1="815.28" x2="220.34" y2="817.28" stroke="#2f5fb8" stroke-width="0.8" />
<line x1="222.11" y1="815.28" x2="222.11" y2="817.28" stroke="#2f5fb8" stroke-width="0.8" />
<line x1="228.02" y1="815.28" x2="228.02" y2="817.28" stroke="#2f5fb8" stroke-width="0.8" />
<line x1="230.98" y1="815.28" x2="230.98" y2="817.28" stroke="#2f5fb8" stroke-width="0.8" />
<line x1="232.16" y1="815.28" x2="232.16" y2="817.28" stroke="#2f5fb8" stroke-width="0.8" />
<line x1="233.94" y1="815.28" x2="233.94" y2="817.28" stroke="#2f5fb8" stroke-width="0.8" />
<line x1="249.9" y1="829.05" x2="249.9" y2="831.05" stroke="#2f5fb8" stroke-width="0.8" />
<line x1="251.68" y1="829.05" x2="251.68" y2="831.05" stroke="#2f5fb8" stroke-width="0.8" />
<line x1="260.55" y1="829.05" x2="260.55" y2="831.05" stroke="#2f5fb8" stroke-width="0.8" />
<line x1="202.1" y1="861.2" x2="214.6" y2="861.2" stroke="#2f5fb8" stroke-width="1.15" />
<line x1="208.35" y1="860" x2="208.35" y2="861.2" stroke="#2f5fb8" stroke-width="0.6" />
<line x1="202.1" y1="873.4" x2="214.6" y2="873.4" stroke="#e8392a" stroke-width="1.15" />
<line x1="208.35" y1="872.2" x2="208.35" y2="873.4" stroke="#e8392a" stroke-width="0.6" />
<text x="214.6" y="864.4" font-size="8.9" >score ≤ 2 (n=37)</text>
<text x="216.8" y="876.6" font-size="8.9" >score ≥3 (n=48)</text>
<line x1="284.5" y1="858.7" x2="284.5" y2="877.9" stroke="#222" stroke-width="0.9" />
<text x="286.8" y="869.91" font-size="8.9" >ns</text>
<text x="340.1" y="779.93" font-size="12.3" font-weight="bold" >Q</text>
<text x="396.9" y="791.17" font-size="8.8" text-anchor="middle" >CD138 IHC score</text>
<line x1="348.6" y1="795.37" x2="348.6" y2="883.7" stroke="#222" stroke-width="1" />
<line x1="348.6" y1="883.7" x2="437.3" y2="883.7" stroke="#222" stroke-width="1" />
<line x1="346" y1="883.7" x2="348.6" y2="883.7" stroke="#222" stroke-width="1" />
<text x="344" y="887.01" font-size="9.2" text-anchor="end" >0</text>
<line x1="346" y1="863.62" x2="348.6" y2="863.62" stroke="#222" stroke-width="1" />
<text x="344" y="866.94" font-size="9.2" text-anchor="end" >25</text>
<line x1="346" y1="843.55" x2="348.6" y2="843.55" stroke="#222" stroke-width="1" />
<text x="344" y="846.86" font-size="9.2" text-anchor="end" >50</text>
<line x1="346" y1="823.48" x2="348.6" y2="823.48" stroke="#222" stroke-width="1" />
<text x="344" y="826.79" font-size="9.2" text-anchor="end" >75</text>
<line x1="346" y1="803.4" x2="348.6" y2="803.4" stroke="#222" stroke-width="1" />
<text x="344" y="806.71" font-size="9.2" text-anchor="end" >100</text>
<line x1="348.6" y1="883.7" x2="348.6" y2="886" stroke="#222" stroke-width="1" />
<text x="348.6" y="899.37" font-size="8.8" text-anchor="middle" >0</text>
<line x1="378.17" y1="883.7" x2="378.17" y2="886" stroke="#222" stroke-width="1" />
<text x="378.17" y="899.37" font-size="8.8" text-anchor="middle" >50</text>
<line x1="407.73" y1="883.7" x2="407.73" y2="886" stroke="#222" stroke-width="1" />
<text x="407.73" y="899.37" font-size="8.8" text-anchor="middle" >100</text>
<line x1="437.3" y1="883.7" x2="437.3" y2="886" stroke="#222" stroke-width="1" />
<text x="437.3" y="899.37" font-size="8.8" text-anchor="middle" >150</text>
<text x="396.45" y="913.74" font-size="9" text-anchor="middle" >Months</text>
<text transform="translate(323.6,840) rotate(-90)" x="0" y="3.24" font-size="9" text-anchor="middle" >Survival (%)</text>
<path d="M348.6,803.4 L354.51,803.4 L354.51,805.81 L359.24,805.81 L359.24,809.02 L367.52,809.02 L367.52,813.04 L433.16,813.04 L433.16,813.04" fill="none" stroke="#e8392a" stroke-width="1.15" />
<line x1="353.33" y1="801.4" x2="353.33" y2="803.4" stroke="#e8392a" stroke-width="0.8" />
<line x1="355.7" y1="803.81" x2="355.7" y2="805.81" stroke="#e8392a" stroke-width="0.8" />
<line x1="357.47" y1="803.81" x2="357.47" y2="805.81" stroke="#e8392a" stroke-width="0.8" />
<line x1="371.07" y1="811.04" x2="371.07" y2="813.04" stroke="#e8392a" stroke-width="0.8" />
<line x1="373.44" y1="811.04" x2="373.44" y2="813.04" stroke="#e8392a" stroke-width="0.8" />
<line x1="378.17" y1="811.04" x2="378.17" y2="813.04" stroke="#e8392a" stroke-width="0.8" />
<line x1="381.12" y1="811.04" x2="381.12" y2="813.04" stroke="#e8392a" stroke-width="0.8" />
<line x1="385.26" y1="811.04" x2="385.26" y2="813.04" stroke="#e8392a" stroke-width="0.8" />
<line x1="387.04" y1="811.04" x2="387.04" y2="813.04" stroke="#e8392a" stroke-width="0.8" />
<line x1="397.09" y1="811.04" x2="397.09" y2="813.04" stroke="#e8392a" stroke-width="0.8" />
<line x1="400.64" y1="811.04" x2="400.64" y2="813.04" stroke="#e8392a" stroke-width="0.8" />
<line x1="403" y1="811.04" x2="403" y2="813.04" stroke="#e8392a" stroke-width="0.8" />
<line x1="424.29" y1="811.04" x2="424.29" y2="813.04" stroke="#e8392a" stroke-width="0.8" />
<path d="M348.6,803.4 L351.56,803.4 L351.56,805.81 L353.33,805.81 L353.33,807.41 L355.1,807.41 L355.1,809.02 L356.88,809.02 L356.88,811.43 L358.06,811.43 L358.06,814.64 L359.24,814.64 L359.24,817.85 L366.34,817.85 L366.34,817.85 L368.11,817.85 L368.11,820.26 L369.89,820.26 L369.89,821.87 L371.07,821.87 L371.07,823.48 L394.72,823.48 L394.72,831.5 L416.6,831.5 L416.6,831.5" fill="none" stroke="#2f5fb8" stroke-width="1.15" />
<line x1="363.38" y1="815.85" x2="363.38" y2="817.85" stroke="#2f5fb8" stroke-width="0.8" />
<line x1="365.16" y1="815.85" x2="365.16" y2="817.85" stroke="#2f5fb8" stroke-width="0.8" />
<line x1="373.44" y1="821.48" x2="373.44" y2="823.48" stroke="#2f5fb8" stroke-width="0.8" />
<line x1="375.8" y1="821.48" x2="375.8" y2="823.48" stroke="#2f5fb8" stroke-width="0.8" />
<line x1="378.17" y1="821.48" x2="378.17" y2="823.48" stroke="#2f5fb8" stroke-width="0.8" />
<line x1="381.12" y1="821.48" x2="381.12" y2="823.48" stroke="#2f5fb8" stroke-width="0.8" />
<line x1="384.08" y1="821.48" x2="384.08" y2="823.48" stroke="#2f5fb8" stroke-width="0.8" />
<line x1="387.04" y1="821.48" x2="387.04" y2="823.48" stroke="#2f5fb8" stroke-width="0.8" />
<line x1="389.99" y1="821.48" x2="389.99" y2="823.48" stroke="#2f5fb8" stroke-width="0.8" />
<line x1="398.86" y1="829.5" x2="398.86" y2="831.5" stroke="#2f5fb8" stroke-width="0.8" />
<line x1="404.78" y1="829.5" x2="404.78" y2="831.5" stroke="#2f5fb8" stroke-width="0.8" />
<line x1="410.69" y1="829.5" x2="410.69" y2="831.5" stroke="#2f5fb8" stroke-width="0.8" />
<line x1="414.83" y1="829.5" x2="414.83" y2="831.5" stroke="#2f5fb8" stroke-width="0.8" />
<line x1="355.2" y1="861.2" x2="367.9" y2="861.2" stroke="#2f5fb8" stroke-width="1.15" />
<line x1="361.55" y1="860" x2="361.55" y2="861.2" stroke="#2f5fb8" stroke-width="0.6" />
<line x1="355.2" y1="873.4" x2="367.9" y2="873.4" stroke="#e8392a" stroke-width="1.15" />
<line x1="361.55" y1="872.2" x2="361.55" y2="873.4" stroke="#e8392a" stroke-width="0.6" />
<text x="369" y="864.4" font-size="8.9" >score ≤ 2 (n=43)</text>
<text x="370" y="876.6" font-size="8.9" >score ≥3 (n=42)</text>
<line x1="438.5" y1="858.7" x2="438.5" y2="877.9" stroke="#222" stroke-width="0.9" />
<text x="440.8" y="869.91" font-size="8.9" >ns</text>
</svg></body></html>
